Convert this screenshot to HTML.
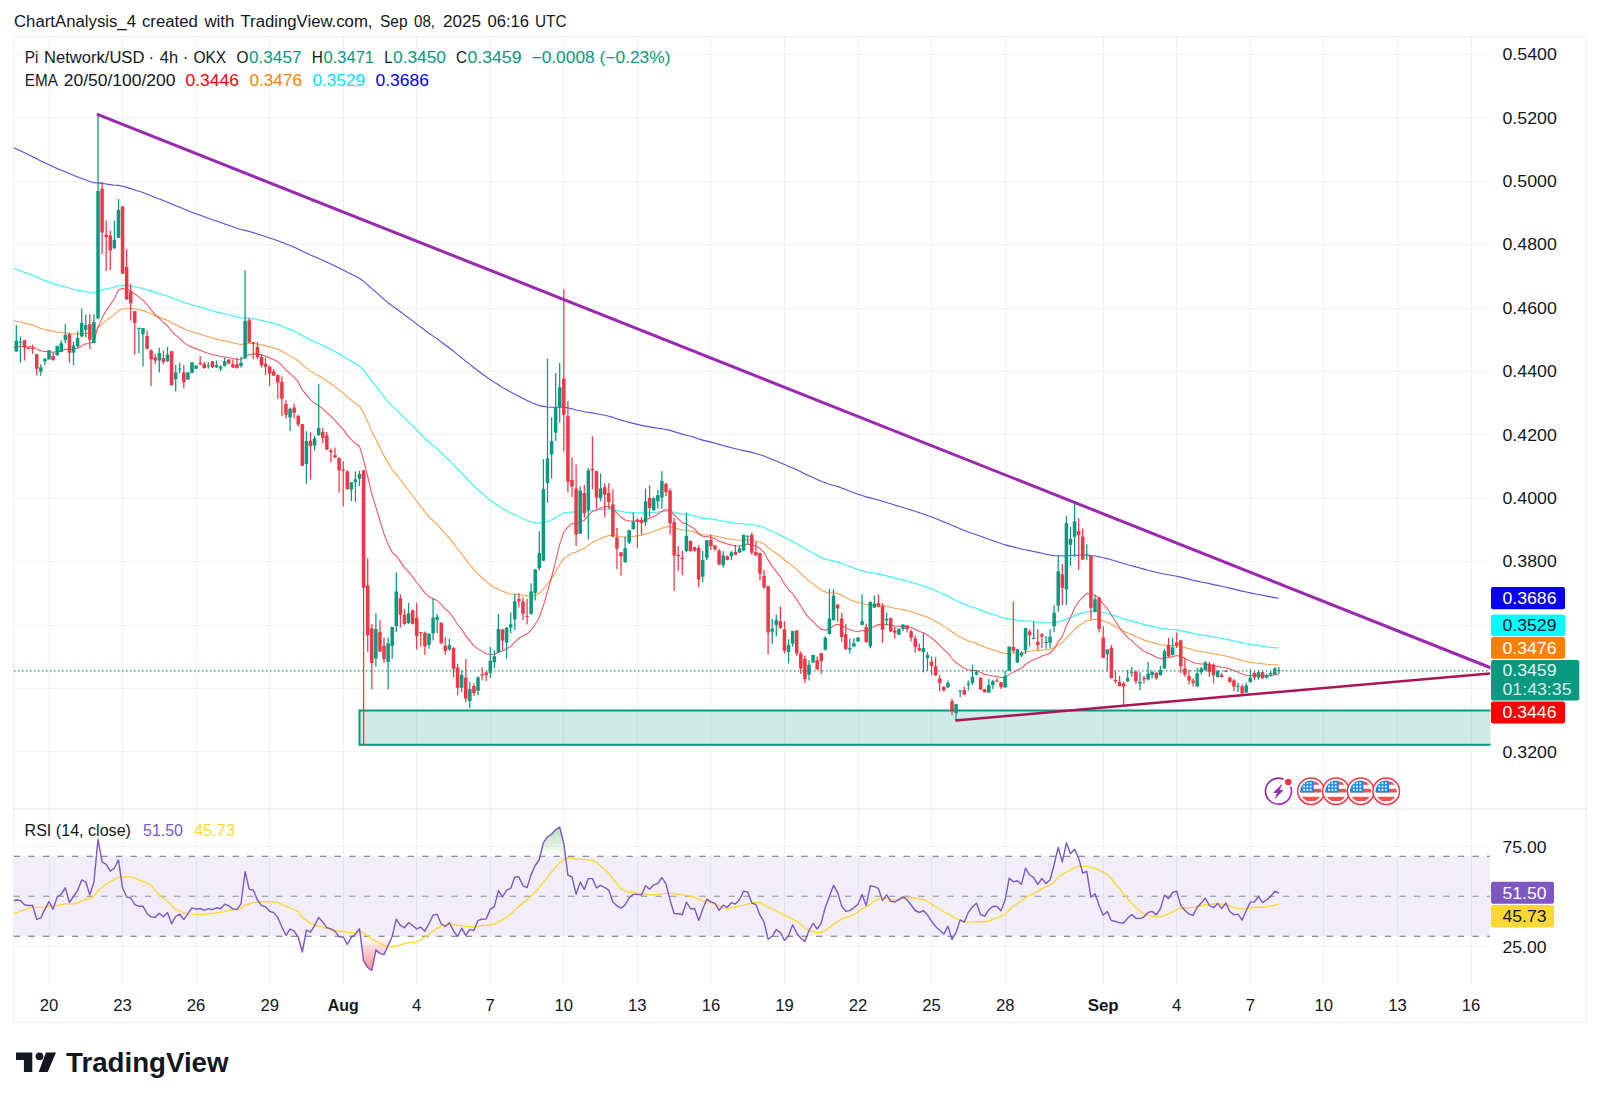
<!DOCTYPE html>
<html lang="en"><head><meta charset="utf-8"><title>ChartAnalysis_4 - TradingView</title>
<style>
html,body{margin:0;padding:0;background:#fff;}
body{width:1600px;height:1103px;overflow:hidden;font-family:"Liberation Sans", Arial, sans-serif;}
svg{display:block;}
text{font-family:"Liberation Sans", Arial, sans-serif;}
.ax{font-size:16px;}
.lg{font-size:15.6px;}
.b{font-weight:bold;}
</style></head><body>
<svg width="1600" height="1103" viewBox="0 0 1600 1103" fill="#131722">
<defs>
<clipPath id="cm"><rect x="13.5" y="36" width="1477" height="773"/></clipPath>
<clipPath id="cr"><rect x="13.5" y="809" width="1477" height="176"/></clipPath>
<clipPath id="c70"><rect x="13" y="809" width="1478" height="47.25"/></clipPath>
<clipPath id="c30"><rect x="13" y="936.25" width="1478" height="60"/></clipPath>
<linearGradient id="gup" x1="0" y1="816" x2="0" y2="856.25" gradientUnits="userSpaceOnUse"><stop offset="0" stop-color="#4caf50" stop-opacity="0.6"/><stop offset="1" stop-color="#4caf50" stop-opacity="0"/></linearGradient>
<linearGradient id="gdn" x1="0" y1="936.25" x2="0" y2="976" gradientUnits="userSpaceOnUse"><stop offset="0" stop-color="#ff5252" stop-opacity="0"/><stop offset="1" stop-color="#ff5252" stop-opacity="0.75"/></linearGradient>
<linearGradient id="gbolt" x1="0" y1="0" x2="1" y2="1"><stop offset="0" stop-color="#7b1fa2"/><stop offset="1" stop-color="#c026d3"/></linearGradient>
<clipPath id="fl"><circle cx="0" cy="0" r="10.6"/></clipPath>
<g id="flag">
<circle cx="0" cy="0" r="13.3" fill="#fff" stroke="#f23645" stroke-width="1.5"/>
<g clip-path="url(#fl)">
<rect x="-11" y="-11" width="22" height="22" fill="#fff"/>
<rect x="-11" y="-9.6" width="22" height="3.2" fill="#ef5350"/>
<rect x="-11" y="-2.4" width="22" height="3.7" fill="#ef5350"/>
<rect x="-11" y="5.6" width="22" height="4.2" fill="#ef5350"/>
<rect x="-11" y="-11" width="13.8" height="12.3" fill="#1e88e5"/>
<g fill="#e8f4ff">
<rect x="-7.9" y="-8.9" width="1.9" height="1.9"/><rect x="-4.6" y="-8.9" width="1.9" height="1.9"/><rect x="-1.3" y="-8.9" width="1.9" height="1.9"/>
<rect x="-7.9" y="-5.6" width="1.9" height="1.9"/><rect x="-4.6" y="-5.6" width="1.9" height="1.9"/><rect x="-1.3" y="-5.6" width="1.9" height="1.9"/>
<rect x="-7.9" y="-2.3" width="1.9" height="1.9"/><rect x="-4.6" y="-2.3" width="1.9" height="1.9"/><rect x="-1.3" y="-2.3" width="1.9" height="1.9"/>
</g></g></g>
</defs>
<rect width="1600" height="1103" fill="#fff"/>

<text y="27.1" font-size="16"><tspan x="14" textLength="122.0" lengthAdjust="spacingAndGlyphs">ChartAnalysis_4</tspan><tspan x="142" textLength="55.8" lengthAdjust="spacingAndGlyphs">created</tspan><tspan x="204.4" textLength="30.0" lengthAdjust="spacingAndGlyphs">with</tspan><tspan x="240.5" textLength="132.0" lengthAdjust="spacingAndGlyphs">TradingView.com,</tspan><tspan x="380" textLength="27.5" lengthAdjust="spacingAndGlyphs">Sep</tspan><tspan x="414" textLength="21.0" lengthAdjust="spacingAndGlyphs">08,</tspan><tspan x="443" textLength="38.0" lengthAdjust="spacingAndGlyphs">2025</tspan><tspan x="487.5" textLength="41.5" lengthAdjust="spacingAndGlyphs">06:16</tspan><tspan x="535" textLength="31.5" lengthAdjust="spacingAndGlyphs">UTC</tspan></text>
<rect x="13.5" y="36.5" width="1573" height="986" fill="none" stroke="#eff0f3" stroke-width="1"/>
<g stroke="#f1f2f4" stroke-width="1" shape-rendering="crispEdges">
<line x1="49.0" y1="37" x2="49.0" y2="985"/>
<line x1="122.5" y1="37" x2="122.5" y2="985"/>
<line x1="196.1" y1="37" x2="196.1" y2="985"/>
<line x1="269.6" y1="37" x2="269.6" y2="985"/>
<line x1="343.2" y1="37" x2="343.2" y2="985"/>
<line x1="416.8" y1="37" x2="416.8" y2="985"/>
<line x1="490.3" y1="37" x2="490.3" y2="985"/>
<line x1="563.9" y1="37" x2="563.9" y2="985"/>
<line x1="637.4" y1="37" x2="637.4" y2="985"/>
<line x1="710.9" y1="37" x2="710.9" y2="985"/>
<line x1="784.5" y1="37" x2="784.5" y2="985"/>
<line x1="858.0" y1="37" x2="858.0" y2="985"/>
<line x1="931.6" y1="37" x2="931.6" y2="985"/>
<line x1="1005.1" y1="37" x2="1005.1" y2="985"/>
<line x1="1103.2" y1="37" x2="1103.2" y2="985"/>
<line x1="1176.8" y1="37" x2="1176.8" y2="985"/>
<line x1="1250.3" y1="37" x2="1250.3" y2="985"/>
<line x1="1323.9" y1="37" x2="1323.9" y2="985"/>
<line x1="1397.4" y1="37" x2="1397.4" y2="985"/>
<line x1="1471.0" y1="37" x2="1471.0" y2="985"/>
<line x1="14" y1="54.4" x2="1490" y2="54.4"/>
<line x1="14" y1="117.8" x2="1490" y2="117.8"/>
<line x1="14" y1="181.2" x2="1490" y2="181.2"/>
<line x1="14" y1="244.6" x2="1490" y2="244.6"/>
<line x1="14" y1="308.0" x2="1490" y2="308.0"/>
<line x1="14" y1="371.4" x2="1490" y2="371.4"/>
<line x1="14" y1="434.8" x2="1490" y2="434.8"/>
<line x1="14" y1="498.2" x2="1490" y2="498.2"/>
<line x1="14" y1="561.6" x2="1490" y2="561.6"/>
<line x1="14" y1="625.0" x2="1490" y2="625.0"/>
<line x1="14" y1="688.4" x2="1490" y2="688.4"/>
<line x1="14" y1="751.8" x2="1490" y2="751.8"/>
<line x1="14" y1="846.5" x2="1490" y2="846.5"/>
<line x1="14" y1="946.0" x2="1490" y2="946.0"/>
</g>
<line x1="14" y1="809" x2="1586" y2="809" stroke="#e0e3eb" stroke-width="1"/>
<g clip-path="url(#cm)">
<rect x="359.5" y="710.5" width="1140" height="34.3" fill="#089981" fill-opacity="0.2" stroke="#089981" stroke-width="2"/>
<line x1="14" y1="670.9" x2="1490" y2="670.9" stroke="#089981" stroke-width="1.4" stroke-dasharray="1.5 2.5"/>
<polyline points="13.5,147.6 16.3,148.9 20.4,150.8 24.5,152.8 28.6,154.8 32.6,156.7 36.7,158.8 40.8,160.9 44.9,162.8 49.0,164.7 53.1,166.7 57.2,168.4 61.2,170.2 65.3,171.8 69.4,173.6 73.5,175.3 77.6,176.9 81.7,178.4 85.8,179.9 89.8,181.4 93.9,182.8 98.0,182.9 102.1,183.4 106.2,184.0 110.3,184.6 114.4,185.2 118.5,185.4 122.5,186.3 126.6,187.4 130.7,188.6 134.8,189.9 138.9,191.3 143.0,192.6 147.1,194.2 151.1,195.8 155.2,197.5 159.3,199.0 163.4,200.6 167.5,202.2 171.6,204.0 175.7,205.7 179.7,207.3 183.8,209.0 187.9,210.7 192.0,212.2 196.1,213.7 200.2,215.2 204.3,216.7 208.3,218.2 212.4,219.7 216.5,221.1 220.6,222.6 224.7,224.0 228.8,225.3 232.9,226.8 236.9,228.2 241.0,229.5 245.1,230.4 249.2,231.5 253.3,232.6 257.4,233.9 261.5,235.2 265.5,236.5 269.6,237.9 273.7,239.2 277.8,240.7 281.9,242.2 286.0,243.9 290.1,245.6 294.1,247.2 298.2,249.0 302.3,251.2 306.4,253.1 310.5,255.0 314.6,256.8 318.7,258.5 322.8,260.3 326.8,262.2 330.9,264.1 335.0,266.0 339.1,268.0 343.2,270.0 347.3,272.2 351.4,274.3 355.4,276.3 359.5,278.3 363.6,281.4 367.7,284.9 371.8,288.7 375.9,292.1 380.0,295.6 384.0,299.3 388.1,302.7 392.2,305.9 396.3,308.8 400.4,311.8 404.5,314.9 408.6,317.9 412.6,320.9 416.7,324.1 420.8,327.1 424.9,330.3 429.0,333.3 433.1,336.1 437.2,338.9 441.2,342.0 445.3,345.0 449.4,348.0 453.5,351.2 457.6,354.6 461.7,357.8 465.8,361.2 469.8,364.4 473.9,367.7 478.0,370.8 482.1,373.8 486.2,376.8 490.3,379.6 494.4,382.4 498.4,384.8 502.5,387.4 506.6,389.8 510.7,392.1 514.8,394.2 518.9,396.2 523.0,398.4 527.1,400.6 531.1,402.5 535.2,404.1 539.3,405.6 543.4,406.4 547.5,407.0 551.6,407.3 555.7,407.3 559.7,407.1 563.8,407.2 567.9,407.9 572.0,408.7 576.1,410.0 580.2,410.8 584.3,411.8 588.3,412.4 592.4,412.9 596.5,413.8 600.6,414.5 604.7,415.3 608.8,416.2 612.9,417.4 616.9,418.7 621.0,420.1 625.1,421.3 629.2,422.4 633.3,423.4 637.4,424.4 641.5,425.4 645.5,426.1 649.6,426.9 653.7,427.6 657.8,428.3 661.9,428.8 666.0,429.5 670.1,430.4 674.1,431.6 678.2,432.9 682.3,434.1 686.4,435.2 690.5,436.3 694.6,437.4 698.7,438.9 702.7,440.1 706.8,441.1 710.9,442.1 715.0,443.2 719.1,444.4 723.2,445.5 727.3,446.6 731.4,447.7 735.4,448.7 739.5,449.7 743.6,450.6 747.7,451.4 751.8,452.4 755.9,453.5 760.0,454.7 764.0,456.0 768.1,457.7 772.2,459.4 776.3,461.0 780.4,462.7 784.5,464.6 788.6,466.4 792.6,468.0 796.7,469.8 800.8,471.8 804.9,473.9 809.0,475.8 813.1,477.6 817.2,479.5 821.2,481.3 825.3,482.8 829.4,484.2 833.5,485.3 837.6,486.5 841.7,488.0 845.8,489.6 849.8,491.2 853.9,492.7 858.0,494.2 862.1,495.4 866.2,496.9 870.3,497.9 874.4,499.0 878.4,500.0 882.5,501.3 886.6,502.5 890.7,503.8 894.8,505.1 898.9,506.3 903.0,507.5 907.0,508.7 911.1,510.0 915.2,511.3 919.3,512.7 923.4,514.1 927.5,515.5 931.6,517.0 935.6,518.5 939.7,520.2 943.8,521.9 947.9,523.5 952.0,525.3 956.1,527.1 960.2,528.8 964.3,530.4 968.3,531.9 972.4,533.4 976.5,534.8 980.6,536.3 984.7,537.8 988.8,539.3 992.9,540.7 996.9,542.1 1001.0,543.6 1005.1,544.9 1009.2,545.9 1013.3,546.9 1017.4,548.0 1021.5,549.0 1025.5,549.8 1029.6,550.6 1033.7,551.5 1037.8,552.4 1041.9,553.3 1046.0,554.2 1050.1,555.0 1054.1,555.6 1058.2,555.7 1062.3,556.0 1066.4,555.7 1070.5,555.5 1074.6,555.2 1078.7,555.0 1082.7,555.0 1086.8,555.0 1090.9,555.6 1095.0,556.0 1099.1,556.7 1103.2,557.7 1107.3,558.6 1111.3,559.8 1115.4,561.0 1119.5,562.3 1123.6,563.5 1127.7,564.7 1131.8,565.7 1135.9,566.9 1140.0,568.0 1144.0,569.1 1148.1,570.2 1152.2,571.2 1156.3,572.3 1160.4,573.2 1164.5,574.0 1168.6,574.8 1172.6,575.5 1176.7,576.2 1180.8,577.1 1184.9,578.1 1189.0,579.1 1193.1,580.2 1197.2,581.1 1201.2,582.0 1205.3,582.8 1209.4,583.6 1213.5,584.6 1217.6,585.4 1221.7,586.3 1225.8,587.2 1229.8,588.1 1233.9,589.1 1238.0,590.1 1242.1,591.1 1246.2,592.0 1250.3,592.9 1254.4,593.7 1258.4,594.5 1262.5,595.3 1266.6,596.1 1270.7,596.9 1274.8,597.6 1278.9,598.3" fill="none" stroke="#2b1fdb" stroke-width="1.1" stroke-opacity="0.8" stroke-linejoin="round"/>
<polyline points="13.5,268.4 16.3,269.4 20.4,270.9 24.5,272.4 28.6,273.9 32.6,275.4 36.7,277.2 40.8,279.0 44.9,280.6 49.0,282.0 53.1,283.5 57.2,284.8 61.2,285.9 65.3,286.9 69.4,288.2 73.5,289.3 77.6,290.3 81.7,290.9 85.8,291.6 89.8,292.6 93.9,293.2 98.0,291.1 102.1,290.0 106.2,288.9 110.3,288.2 114.4,287.2 118.5,285.7 122.5,285.4 126.6,285.7 130.7,286.1 134.8,286.8 138.9,287.6 143.0,288.4 147.1,289.6 151.1,291.0 155.2,292.4 159.3,293.6 163.4,294.9 167.5,296.1 171.6,297.9 175.7,299.3 179.7,300.7 183.8,302.3 187.9,303.7 192.0,304.9 196.1,306.1 200.2,307.2 204.3,308.4 208.3,309.6 212.4,310.7 216.5,311.8 220.6,312.9 224.7,313.8 228.8,314.8 232.9,315.9 236.9,316.9 241.0,317.8 245.1,317.9 249.2,318.3 253.3,318.8 257.4,319.6 261.5,320.5 265.5,321.4 269.6,322.4 273.7,323.5 277.8,324.7 281.9,326.1 286.0,327.9 290.1,329.5 294.1,331.1 298.2,333.0 302.3,335.6 306.4,337.7 310.5,339.9 314.6,341.8 318.7,343.5 322.8,345.4 326.8,347.4 330.9,349.5 335.0,351.7 339.1,354.0 343.2,356.3 347.3,358.9 351.4,361.4 355.4,363.7 359.5,365.9 363.6,370.3 367.7,375.5 371.8,381.2 375.9,386.1 380.0,391.4 384.0,396.7 388.1,401.6 392.2,406.1 396.3,409.7 400.4,413.8 404.5,417.9 408.6,421.8 412.6,425.8 416.7,430.0 420.8,434.0 424.9,438.2 429.0,442.1 433.1,445.5 437.2,448.9 441.2,452.8 445.3,456.7 449.4,460.4 453.5,464.6 457.6,469.0 461.7,473.1 465.8,477.5 469.8,481.7 473.9,485.9 478.0,489.7 482.1,493.4 486.2,497.0 490.3,500.2 494.4,503.3 498.4,505.8 502.5,508.5 506.6,510.8 510.7,513.1 514.8,514.8 518.9,516.5 523.0,518.5 527.1,520.4 531.1,521.8 535.2,522.8 539.3,523.4 543.4,522.7 547.5,521.4 551.6,519.8 555.7,517.6 559.7,515.0 563.8,513.0 567.9,512.4 572.0,511.9 576.1,512.3 580.2,511.9 584.3,511.9 588.3,511.1 592.4,510.3 596.5,510.1 600.6,509.6 604.7,509.3 608.8,509.2 612.9,509.7 616.9,510.5 621.0,511.4 625.1,512.1 629.2,512.5 633.3,512.7 637.4,512.8 641.5,513.0 645.5,512.8 649.6,512.7 653.7,512.4 657.8,512.1 661.9,511.5 666.0,511.1 670.1,511.3 674.1,512.2 678.2,513.1 682.3,514.0 686.4,514.4 690.5,515.1 694.6,515.8 698.7,517.1 702.7,518.0 706.8,518.4 710.9,518.9 715.0,519.5 719.1,520.4 723.2,521.1 727.3,521.9 731.4,522.5 735.4,523.1 739.5,523.6 743.6,523.9 747.7,524.1 751.8,524.7 755.9,525.3 760.0,526.2 764.0,527.4 768.1,529.5 772.2,531.5 776.3,533.2 780.4,535.1 784.5,537.4 788.6,539.5 792.6,541.3 796.7,543.6 800.8,546.0 804.9,548.7 809.0,551.0 813.1,553.0 817.2,555.3 821.2,557.4 825.3,559.0 829.4,560.2 833.5,560.9 837.6,561.8 841.7,563.3 845.8,565.0 849.8,566.7 853.9,568.2 858.0,569.6 862.1,570.6 866.2,572.0 870.3,572.6 874.4,573.2 878.4,573.9 882.5,575.0 886.6,575.9 890.7,577.0 894.8,578.1 898.9,579.1 903.0,580.0 907.0,580.9 911.1,582.1 915.2,583.4 919.3,584.7 923.4,585.9 927.5,587.3 931.6,588.9 935.6,590.6 939.7,592.4 943.8,594.3 947.9,596.1 952.0,598.4 956.1,600.5 960.2,602.3 964.3,604.1 968.3,605.7 972.4,607.1 976.5,608.4 980.6,610.0 984.7,611.6 988.8,613.1 992.9,614.4 996.9,615.7 1001.0,617.1 1005.1,618.3 1009.2,618.9 1013.3,619.5 1017.4,620.1 1021.5,620.7 1025.5,620.9 1029.6,621.2 1033.7,621.5 1037.8,622.0 1041.9,622.3 1046.0,622.7 1050.1,622.9 1054.1,622.7 1058.2,621.7 1062.3,621.0 1066.4,619.1 1070.5,617.5 1074.6,615.6 1078.7,614.0 1082.7,612.9 1086.8,611.8 1090.9,611.7 1095.0,611.5 1099.1,611.8 1103.2,612.7 1107.3,613.4 1111.3,614.7 1115.4,616.0 1119.5,617.4 1123.6,618.8 1127.7,620.0 1131.8,621.0 1135.9,622.2 1140.0,623.4 1144.0,624.5 1148.1,625.5 1152.2,626.4 1156.3,627.4 1160.4,628.3 1164.5,628.7 1168.6,629.3 1172.6,629.6 1176.7,629.9 1180.8,630.7 1184.9,631.5 1189.0,632.5 1193.1,633.5 1197.2,634.3 1201.2,635.0 1205.3,635.5 1209.4,636.2 1213.5,637.0 1217.6,637.7 1221.7,638.4 1225.8,639.1 1229.8,640.0 1233.9,640.9 1238.0,641.8 1242.1,642.8 1246.2,643.6 1250.3,644.3 1254.4,645.0 1258.4,645.5 1262.5,646.1 1266.6,646.7 1270.7,647.3 1274.8,647.7 1278.9,648.1" fill="none" stroke="#2ff3f3" stroke-width="1.35" stroke-opacity="0.85" stroke-linejoin="round"/>
<polyline points="13.5,320.7 16.3,321.3 20.4,322.1 24.5,323.1 28.6,324.1 32.6,325.1 36.7,326.8 40.8,328.4 44.9,329.6 49.0,330.4 53.1,331.6 57.2,332.1 61.2,332.6 65.3,332.7 69.4,333.4 73.5,333.9 77.6,334.1 81.7,333.6 85.8,333.3 89.8,333.6 93.9,333.1 98.0,327.5 102.1,323.8 106.2,320.4 110.3,317.7 114.4,314.6 118.5,310.5 122.5,309.1 126.6,308.7 130.7,308.5 134.8,309.0 138.9,309.8 143.0,310.5 147.1,312.0 151.1,313.9 155.2,315.7 159.3,317.1 163.4,318.9 167.5,320.3 171.6,322.8 175.7,324.8 179.7,326.5 183.8,328.7 187.9,330.4 192.0,331.7 196.1,333.0 200.2,334.2 204.3,335.6 208.3,336.7 212.4,337.9 216.5,339.0 220.6,340.1 224.7,340.9 228.8,341.8 232.9,342.8 236.9,343.8 241.0,344.5 245.1,343.6 249.2,343.6 253.3,343.5 257.4,344.1 261.5,344.9 265.5,345.8 269.6,346.8 273.7,348.0 277.8,349.3 281.9,351.3 286.0,353.8 290.1,355.9 294.1,358.1 298.2,360.7 302.3,364.9 306.4,367.9 310.5,370.9 314.6,373.6 318.7,375.7 322.8,378.1 326.8,380.9 330.9,383.7 335.0,386.6 339.1,389.9 343.2,393.1 347.3,396.8 351.4,400.2 355.4,403.3 359.5,406.1 363.6,413.2 367.7,421.9 371.8,431.4 375.9,439.1 380.0,447.4 384.0,455.7 388.1,463.1 392.2,469.5 396.3,474.3 400.4,479.8 404.5,485.5 408.6,490.5 412.6,495.7 416.7,501.2 420.8,506.4 424.9,511.9 429.0,516.6 433.1,520.6 437.2,524.4 441.2,529.1 445.3,533.8 449.4,538.2 453.5,543.3 457.6,549.0 461.7,553.9 465.8,559.6 469.8,564.7 473.9,569.7 478.0,573.9 482.1,577.9 486.2,581.7 490.3,584.8 494.4,587.6 498.4,589.2 502.5,591.2 506.6,592.7 510.7,593.9 514.8,594.2 518.9,594.5 523.0,595.2 527.1,596.1 531.1,595.9 535.2,594.9 539.3,593.2 543.4,589.1 547.5,584.0 551.6,578.4 555.7,571.7 559.7,564.5 563.8,558.6 567.9,555.6 572.0,552.9 576.1,552.2 580.2,549.8 584.3,548.3 588.3,545.3 592.4,542.3 596.5,540.6 600.6,538.5 604.7,536.8 608.8,535.4 612.9,535.5 616.9,536.0 621.0,536.8 625.1,537.2 629.2,537.0 633.3,536.4 637.4,535.8 641.5,535.3 645.5,534.0 649.6,532.9 653.7,531.6 657.8,530.1 661.9,528.2 666.0,526.8 670.1,526.7 674.1,527.8 678.2,528.9 682.3,530.1 686.4,530.3 690.5,531.1 694.6,531.9 698.7,533.8 702.7,534.8 706.8,535.0 710.9,535.4 715.0,536.0 719.1,537.1 723.2,537.8 727.3,538.7 731.4,539.2 735.4,539.8 739.5,540.2 743.6,540.0 747.7,539.8 751.8,540.3 755.9,540.9 760.0,542.2 764.0,543.9 768.1,547.4 772.2,550.6 776.3,553.3 780.4,556.3 784.5,560.0 788.6,563.3 792.6,565.9 796.7,569.4 800.8,573.3 804.9,577.4 809.0,580.8 813.1,583.8 817.2,587.1 821.2,590.0 825.3,591.9 829.4,592.9 833.5,593.0 837.6,593.6 841.7,595.3 845.8,597.4 849.8,599.4 853.9,601.2 858.0,602.6 862.1,603.3 866.2,604.8 870.3,604.7 874.4,604.7 878.4,604.8 882.5,605.8 886.6,606.3 890.7,607.3 894.8,608.3 898.9,609.1 903.0,609.7 907.0,610.4 911.1,611.5 915.2,612.9 919.3,614.4 923.4,615.7 927.5,617.2 931.6,619.1 935.6,621.3 939.7,623.8 943.8,626.4 947.9,628.6 952.0,631.8 956.1,634.7 960.2,636.9 964.3,639.1 968.3,640.9 972.4,642.3 976.5,643.5 980.6,645.3 984.7,647.1 988.8,648.6 992.9,649.9 996.9,651.1 1001.0,652.5 1005.1,653.5 1009.2,653.2 1013.3,653.1 1017.4,652.9 1021.5,652.9 1025.5,652.0 1029.6,651.3 1033.7,650.8 1037.8,650.6 1041.9,650.0 1046.0,649.7 1050.1,649.2 1054.1,647.8 1058.2,644.8 1062.3,642.5 1066.4,637.8 1070.5,634.0 1074.6,629.5 1078.7,625.8 1082.7,623.2 1086.8,620.6 1090.9,620.1 1095.0,619.2 1099.1,619.6 1103.2,621.1 1107.3,622.2 1111.3,624.4 1115.4,626.7 1119.5,629.0 1123.6,631.2 1127.7,633.1 1131.8,634.6 1135.9,636.5 1140.0,638.2 1144.0,639.9 1148.1,641.2 1152.2,642.4 1156.3,643.8 1160.4,644.8 1164.5,645.1 1168.6,645.5 1172.6,645.6 1176.7,645.6 1180.8,646.4 1184.9,647.5 1189.0,648.8 1193.1,650.1 1197.2,651.0 1201.2,651.7 1205.3,652.1 1209.4,652.9 1213.5,653.8 1217.6,654.5 1221.7,655.3 1225.8,656.0 1229.8,657.0 1233.9,658.2 1238.0,659.2 1242.1,660.6 1246.2,661.6 1250.3,662.2 1254.4,662.8 1258.4,663.2 1262.5,663.7 1266.6,664.2 1270.7,664.6 1274.8,664.7 1278.9,664.9" fill="none" stroke="#ff8a1f" stroke-width="1.05" stroke-opacity="0.85" stroke-linejoin="round"/>
<polyline points="13.5,347.2 16.3,346.9 20.4,346.4 24.5,346.5 28.6,346.7 32.6,346.9 36.7,349.0 40.8,350.8 44.9,351.5 49.0,351.4 53.1,352.2 57.2,351.7 61.2,350.9 65.3,349.3 69.4,349.7 73.5,349.3 77.6,348.2 81.7,345.8 85.8,343.8 89.8,343.4 93.9,341.4 98.0,327.1 102.1,318.1 106.2,310.3 110.3,304.6 114.4,298.5 118.5,290.0 122.5,288.5 126.6,289.5 130.7,290.8 134.8,293.9 138.9,297.1 143.0,300.1 147.1,304.7 151.1,309.9 155.2,314.7 159.3,318.4 163.4,322.5 167.5,325.6 171.6,331.3 175.7,335.2 179.7,338.4 183.8,342.6 187.9,345.4 192.0,347.0 196.1,348.8 200.2,350.3 204.3,352.0 208.3,353.2 212.4,354.6 216.5,355.6 220.6,356.6 224.7,357.1 228.8,357.7 232.9,358.6 236.9,359.5 241.0,359.8 245.1,356.1 249.2,354.8 253.3,353.7 257.4,354.0 261.5,355.1 265.5,356.2 269.6,357.9 273.7,359.5 277.8,361.7 281.9,365.3 286.0,370.0 290.1,373.7 294.1,377.4 298.2,381.9 302.3,389.9 306.4,394.7 310.5,399.6 314.6,403.3 318.7,405.7 322.8,408.8 326.8,412.6 330.9,416.4 335.0,420.3 339.1,425.1 343.2,429.4 347.3,435.1 351.4,439.6 355.4,443.4 359.5,446.3 363.6,459.8 367.7,476.5 371.8,494.2 375.9,507.1 380.0,520.8 384.0,534.0 388.1,544.4 392.2,552.3 396.3,556.0 400.4,561.6 404.5,567.6 408.6,571.9 412.6,576.9 416.7,582.5 420.8,587.3 424.9,592.9 429.0,596.8 433.1,598.8 437.2,600.5 441.2,604.6 445.3,609.0 449.4,612.4 453.5,617.8 457.6,624.5 461.7,629.3 465.8,635.9 469.8,640.9 473.9,645.9 478.0,648.9 482.1,651.4 486.2,653.7 490.3,654.3 494.4,654.5 498.4,652.1 502.5,651.0 506.6,648.8 510.7,646.4 514.8,642.1 518.9,638.2 523.0,635.9 527.1,634.1 531.1,630.0 535.2,624.3 539.3,617.5 543.4,605.3 547.5,591.3 551.6,577.0 555.7,560.8 559.7,544.3 563.8,532.0 567.9,527.2 572.0,523.3 576.1,524.4 580.2,521.2 584.3,520.4 588.3,515.7 592.4,511.3 596.5,510.0 600.6,508.0 604.7,506.7 608.8,506.2 612.9,509.1 616.9,512.9 621.0,517.0 625.1,520.0 629.2,521.0 633.3,521.0 637.4,521.1 641.5,521.3 645.5,519.4 649.6,518.3 653.7,516.4 657.8,514.4 661.9,511.2 666.0,509.4 670.1,510.7 674.1,514.9 678.2,518.9 682.3,522.7 686.4,523.9 690.5,526.5 694.6,528.8 698.7,533.7 702.7,536.2 706.8,536.5 710.9,537.5 715.0,538.6 719.1,541.1 723.2,542.4 727.3,544.1 731.4,544.9 735.4,545.8 739.5,546.1 743.6,545.0 747.7,544.1 751.8,544.9 755.9,545.9 760.0,548.6 764.0,552.3 768.1,559.9 772.2,566.4 776.3,571.6 780.4,576.9 784.5,584.0 788.6,589.8 792.6,593.7 796.7,599.4 800.8,606.0 804.9,612.9 809.0,617.9 813.1,621.4 817.2,626.0 821.2,629.3 825.3,630.1 829.4,629.0 833.5,625.8 837.6,624.2 841.7,625.4 845.8,627.6 849.8,629.6 853.9,630.9 858.0,631.6 862.1,630.6 866.2,631.7 870.3,628.8 874.4,626.4 878.4,624.6 882.5,625.1 886.6,624.5 890.7,625.2 894.8,625.9 898.9,626.2 903.0,626.0 907.0,626.3 911.1,627.4 915.2,629.2 919.3,631.3 923.4,632.9 927.5,635.0 931.6,637.9 935.6,641.5 939.7,645.4 943.8,649.7 947.9,652.9 952.0,658.5 956.1,662.8 960.2,665.4 964.3,668.2 968.3,669.7 972.4,670.4 976.5,670.5 980.6,672.4 984.7,674.2 988.8,675.3 992.9,675.9 996.9,676.4 1001.0,677.4 1005.1,677.3 1009.2,674.4 1013.3,672.1 1017.4,669.9 1021.5,668.3 1025.5,664.5 1029.6,661.7 1033.7,659.4 1037.8,658.1 1041.9,656.0 1046.0,654.7 1050.1,653.0 1054.1,649.1 1058.2,641.7 1062.3,636.6 1066.4,625.8 1070.5,617.5 1074.6,608.3 1078.7,601.4 1082.7,597.4 1086.8,593.3 1090.9,594.7 1095.0,595.1 1099.1,598.4 1103.2,604.0 1107.3,608.4 1111.3,615.0 1115.4,621.3 1119.5,627.5 1123.6,633.1 1127.7,637.4 1131.8,640.7 1135.9,644.6 1140.0,648.2 1144.0,651.1 1148.1,653.2 1152.2,655.0 1156.3,657.2 1160.4,658.5 1164.5,657.8 1168.6,657.7 1172.6,656.7 1176.7,655.6 1180.8,656.6 1184.9,658.3 1189.0,660.4 1193.1,662.6 1197.2,663.6 1201.2,664.1 1205.3,663.9 1209.4,664.7 1213.5,665.7 1217.6,666.2 1221.7,667.2 1225.8,667.6 1229.8,669.0 1233.9,670.7 1238.0,672.1 1242.1,674.1 1246.2,675.2 1250.3,675.4 1254.4,675.6 1258.4,675.3 1262.5,675.6 1266.6,675.6 1270.7,675.4 1274.8,674.7 1278.9,674.3" fill="none" stroke="#f5333f" stroke-width="1.05" stroke-opacity="0.85" stroke-linejoin="round"/>
<line x1="16.3" y1="325.1" x2="16.3" y2="351.5" stroke="#089981" stroke-width="1.25"/>
<rect x="14.55" y="340.9" width="3.5" height="10.6" fill="#089981"/>
<line x1="20.4" y1="336.4" x2="20.4" y2="362.8" stroke="#089981" stroke-width="1.25"/>
<rect x="18.64" y="341.7" width="3.5" height="1.0" fill="#089981"/>
<line x1="24.5" y1="340.2" x2="24.5" y2="360.5" stroke="#f23645" stroke-width="1.25"/>
<rect x="22.72" y="340.2" width="3.5" height="7.5" fill="#f23645"/>
<line x1="28.6" y1="347.0" x2="28.6" y2="349.2" stroke="#f23645" stroke-width="1.25"/>
<rect x="26.81" y="347.7" width="3.5" height="1.2" fill="#f23645"/>
<line x1="32.6" y1="344.7" x2="32.6" y2="353.7" stroke="#f23645" stroke-width="1.25"/>
<rect x="30.89" y="347.7" width="3.5" height="1.2" fill="#f23645"/>
<line x1="36.7" y1="354.2" x2="36.7" y2="375.5" stroke="#f23645" stroke-width="1.25"/>
<rect x="34.98" y="354.2" width="3.5" height="14.6" fill="#f23645"/>
<line x1="40.8" y1="364.3" x2="40.8" y2="375.8" stroke="#089981" stroke-width="1.25"/>
<rect x="39.07" y="367.3" width="3.5" height="4.2" fill="#089981"/>
<line x1="44.9" y1="358.2" x2="44.9" y2="365.0" stroke="#089981" stroke-width="1.25"/>
<rect x="43.15" y="358.7" width="3.5" height="2.6" fill="#089981"/>
<line x1="49.0" y1="350.3" x2="49.0" y2="359.4" stroke="#089981" stroke-width="1.25"/>
<rect x="47.24" y="350.3" width="3.5" height="9.1" fill="#089981"/>
<line x1="53.1" y1="352.2" x2="53.1" y2="360.5" stroke="#f23645" stroke-width="1.25"/>
<rect x="51.32" y="356.0" width="3.5" height="4.2" fill="#f23645"/>
<line x1="57.2" y1="345.5" x2="57.2" y2="355.7" stroke="#089981" stroke-width="1.25"/>
<rect x="55.41" y="346.2" width="3.5" height="9.0" fill="#089981"/>
<line x1="61.2" y1="340.2" x2="61.2" y2="352.2" stroke="#089981" stroke-width="1.25"/>
<rect x="59.50" y="343.2" width="3.5" height="8.7" fill="#089981"/>
<line x1="65.3" y1="324.1" x2="65.3" y2="343.2" stroke="#089981" stroke-width="1.25"/>
<rect x="63.58" y="334.9" width="3.5" height="5.3" fill="#089981"/>
<line x1="69.4" y1="332.7" x2="69.4" y2="362.8" stroke="#f23645" stroke-width="1.25"/>
<rect x="67.67" y="334.2" width="3.5" height="18.5" fill="#f23645"/>
<line x1="73.5" y1="341.7" x2="73.5" y2="365.3" stroke="#089981" stroke-width="1.25"/>
<rect x="71.75" y="345.5" width="3.5" height="7.2" fill="#089981"/>
<line x1="77.6" y1="331.2" x2="77.6" y2="347.7" stroke="#089981" stroke-width="1.25"/>
<rect x="75.84" y="337.9" width="3.5" height="8.3" fill="#089981"/>
<line x1="81.7" y1="308.6" x2="81.7" y2="337.2" stroke="#089981" stroke-width="1.25"/>
<rect x="79.93" y="322.9" width="3.5" height="13.5" fill="#089981"/>
<line x1="85.8" y1="314.6" x2="85.8" y2="337.2" stroke="#089981" stroke-width="1.25"/>
<rect x="84.01" y="325.1" width="3.5" height="4.6" fill="#089981"/>
<line x1="89.8" y1="314.3" x2="89.8" y2="348.9" stroke="#f23645" stroke-width="1.25"/>
<rect x="88.10" y="324.1" width="3.5" height="15.8" fill="#f23645"/>
<line x1="93.9" y1="314.3" x2="93.9" y2="343.2" stroke="#089981" stroke-width="1.25"/>
<rect x="92.18" y="322.1" width="3.5" height="20.8" fill="#089981"/>
<line x1="98.0" y1="114.3" x2="98.0" y2="318.5" stroke="#089981" stroke-width="1.25"/>
<rect x="96.27" y="191.0" width="3.5" height="127.5" fill="#089981"/>
<line x1="102.1" y1="182.0" x2="102.1" y2="254.2" stroke="#f23645" stroke-width="1.25"/>
<rect x="100.36" y="188.8" width="3.5" height="43.6" fill="#f23645"/>
<line x1="106.2" y1="220.4" x2="106.2" y2="271.0" stroke="#f23645" stroke-width="1.25"/>
<rect x="104.44" y="234.7" width="3.5" height="2.2" fill="#f23645"/>
<line x1="110.3" y1="230.6" x2="110.3" y2="270.0" stroke="#f23645" stroke-width="1.25"/>
<rect x="108.53" y="235.4" width="3.5" height="15.1" fill="#f23645"/>
<line x1="114.4" y1="220.4" x2="114.4" y2="249.0" stroke="#089981" stroke-width="1.25"/>
<rect x="112.61" y="239.9" width="3.5" height="8.3" fill="#089981"/>
<line x1="118.5" y1="199.0" x2="118.5" y2="238.0" stroke="#089981" stroke-width="1.25"/>
<rect x="116.70" y="209.8" width="3.5" height="27.9" fill="#089981"/>
<line x1="122.5" y1="206.0" x2="122.5" y2="274.0" stroke="#f23645" stroke-width="1.25"/>
<rect x="120.79" y="206.5" width="3.5" height="67.1" fill="#f23645"/>
<line x1="126.6" y1="249.0" x2="126.6" y2="300.0" stroke="#f23645" stroke-width="1.25"/>
<rect x="124.87" y="266.9" width="3.5" height="32.6" fill="#f23645"/>
<line x1="130.7" y1="284.0" x2="130.7" y2="320.2" stroke="#f23645" stroke-width="1.25"/>
<rect x="128.96" y="291.6" width="3.5" height="11.7" fill="#f23645"/>
<line x1="134.8" y1="311.1" x2="134.8" y2="354.5" stroke="#f23645" stroke-width="1.25"/>
<rect x="133.04" y="311.1" width="3.5" height="11.8" fill="#f23645"/>
<line x1="138.9" y1="327.8" x2="138.9" y2="353.3" stroke="#089981" stroke-width="1.25"/>
<rect x="137.13" y="327.8" width="3.5" height="1.1" fill="#089981"/>
<line x1="143.0" y1="328.1" x2="143.0" y2="366.5" stroke="#089981" stroke-width="1.25"/>
<rect x="141.22" y="328.1" width="3.5" height="6.1" fill="#089981"/>
<line x1="147.1" y1="330.4" x2="147.1" y2="349.2" stroke="#f23645" stroke-width="1.25"/>
<rect x="145.30" y="336.0" width="3.5" height="12.9" fill="#f23645"/>
<line x1="151.1" y1="349.2" x2="151.1" y2="386.0" stroke="#f23645" stroke-width="1.25"/>
<rect x="149.39" y="350.4" width="3.5" height="9.0" fill="#f23645"/>
<line x1="155.2" y1="353.7" x2="155.2" y2="364.3" stroke="#f23645" stroke-width="1.25"/>
<rect x="153.47" y="357.5" width="3.5" height="3.0" fill="#f23645"/>
<line x1="159.3" y1="347.7" x2="159.3" y2="372.5" stroke="#089981" stroke-width="1.25"/>
<rect x="157.56" y="353.0" width="3.5" height="7.5" fill="#089981"/>
<line x1="163.4" y1="350.7" x2="163.4" y2="364.3" stroke="#f23645" stroke-width="1.25"/>
<rect x="161.65" y="358.0" width="3.5" height="4.0" fill="#f23645"/>
<line x1="167.5" y1="347.0" x2="167.5" y2="362.0" stroke="#089981" stroke-width="1.25"/>
<rect x="165.73" y="354.5" width="3.5" height="6.8" fill="#089981"/>
<line x1="171.6" y1="351.2" x2="171.6" y2="385.3" stroke="#f23645" stroke-width="1.25"/>
<rect x="169.82" y="351.2" width="3.5" height="34.1" fill="#f23645"/>
<line x1="175.7" y1="365.0" x2="175.7" y2="391.6" stroke="#089981" stroke-width="1.25"/>
<rect x="173.90" y="372.5" width="3.5" height="6.8" fill="#089981"/>
<line x1="179.7" y1="362.8" x2="179.7" y2="373.3" stroke="#089981" stroke-width="1.25"/>
<rect x="177.99" y="368.5" width="3.5" height="1.0" fill="#089981"/>
<line x1="183.8" y1="365.0" x2="183.8" y2="388.6" stroke="#f23645" stroke-width="1.25"/>
<rect x="182.08" y="372.5" width="3.5" height="9.8" fill="#f23645"/>
<line x1="187.9" y1="372.0" x2="187.9" y2="380.0" stroke="#089981" stroke-width="1.25"/>
<rect x="186.16" y="372.5" width="3.5" height="6.8" fill="#089981"/>
<line x1="192.0" y1="362.0" x2="192.0" y2="373.3" stroke="#089981" stroke-width="1.25"/>
<rect x="190.25" y="362.5" width="3.5" height="10.5" fill="#089981"/>
<line x1="196.1" y1="365.5" x2="196.1" y2="368.8" stroke="#089981" stroke-width="1.25"/>
<rect x="194.33" y="365.5" width="3.5" height="3.3" fill="#089981"/>
<line x1="200.2" y1="356.0" x2="200.2" y2="365.0" stroke="#f23645" stroke-width="1.25"/>
<rect x="198.42" y="362.8" width="3.5" height="1.5" fill="#f23645"/>
<line x1="204.3" y1="362.0" x2="204.3" y2="368.8" stroke="#f23645" stroke-width="1.25"/>
<rect x="202.51" y="364.0" width="3.5" height="4.0" fill="#f23645"/>
<line x1="208.3" y1="362.0" x2="208.3" y2="368.8" stroke="#089981" stroke-width="1.25"/>
<rect x="206.59" y="365.5" width="3.5" height="1.0" fill="#089981"/>
<line x1="212.4" y1="361.0" x2="212.4" y2="368.0" stroke="#f23645" stroke-width="1.25"/>
<rect x="210.68" y="361.3" width="3.5" height="6.0" fill="#f23645"/>
<line x1="216.5" y1="360.5" x2="216.5" y2="368.0" stroke="#089981" stroke-width="1.25"/>
<rect x="214.76" y="365.0" width="3.5" height="2.3" fill="#089981"/>
<line x1="220.6" y1="365.8" x2="220.6" y2="371.0" stroke="#089981" stroke-width="1.25"/>
<rect x="218.85" y="366.5" width="3.5" height="2.3" fill="#089981"/>
<line x1="224.7" y1="357.5" x2="224.7" y2="366.5" stroke="#089981" stroke-width="1.25"/>
<rect x="222.94" y="361.3" width="3.5" height="4.5" fill="#089981"/>
<line x1="228.8" y1="359.0" x2="228.8" y2="364.3" stroke="#f23645" stroke-width="1.25"/>
<rect x="227.02" y="359.7" width="3.5" height="3.8" fill="#f23645"/>
<line x1="232.9" y1="359.7" x2="232.9" y2="368.0" stroke="#f23645" stroke-width="1.25"/>
<rect x="231.11" y="364.3" width="3.5" height="3.0" fill="#f23645"/>
<line x1="236.9" y1="357.5" x2="236.9" y2="368.8" stroke="#f23645" stroke-width="1.25"/>
<rect x="235.19" y="364.3" width="3.5" height="3.7" fill="#f23645"/>
<line x1="241.0" y1="356.7" x2="241.0" y2="367.6" stroke="#089981" stroke-width="1.25"/>
<rect x="239.28" y="362.8" width="3.5" height="3.0" fill="#089981"/>
<line x1="245.1" y1="270.2" x2="245.1" y2="358.6" stroke="#089981" stroke-width="1.25"/>
<rect x="243.37" y="320.9" width="3.5" height="37.7" fill="#089981"/>
<line x1="249.2" y1="317.9" x2="249.2" y2="342.8" stroke="#f23645" stroke-width="1.25"/>
<rect x="247.45" y="320.2" width="3.5" height="22.3" fill="#f23645"/>
<line x1="253.3" y1="342.0" x2="253.3" y2="359.3" stroke="#f23645" stroke-width="1.25"/>
<rect x="251.54" y="342.0" width="3.5" height="1.2" fill="#f23645"/>
<line x1="257.4" y1="342.0" x2="257.4" y2="359.3" stroke="#f23645" stroke-width="1.25"/>
<rect x="255.62" y="347.0" width="3.5" height="10.0" fill="#f23645"/>
<line x1="261.5" y1="354.0" x2="261.5" y2="367.6" stroke="#f23645" stroke-width="1.25"/>
<rect x="259.71" y="357.0" width="3.5" height="8.3" fill="#f23645"/>
<line x1="265.5" y1="357.8" x2="265.5" y2="375.1" stroke="#f23645" stroke-width="1.25"/>
<rect x="263.80" y="363.8" width="3.5" height="3.0" fill="#f23645"/>
<line x1="269.6" y1="366.0" x2="269.6" y2="386.1" stroke="#f23645" stroke-width="1.25"/>
<rect x="267.88" y="366.5" width="3.5" height="7.1" fill="#f23645"/>
<line x1="273.7" y1="369.1" x2="273.7" y2="375.9" stroke="#f23645" stroke-width="1.25"/>
<rect x="271.97" y="371.3" width="3.5" height="4.3" fill="#f23645"/>
<line x1="277.8" y1="374.4" x2="277.8" y2="399.2" stroke="#f23645" stroke-width="1.25"/>
<rect x="276.05" y="375.1" width="3.5" height="7.5" fill="#f23645"/>
<line x1="281.9" y1="376.6" x2="281.9" y2="416.3" stroke="#f23645" stroke-width="1.25"/>
<rect x="280.14" y="381.9" width="3.5" height="16.7" fill="#f23645"/>
<line x1="286.0" y1="400.2" x2="286.0" y2="418.5" stroke="#f23645" stroke-width="1.25"/>
<rect x="284.23" y="404.0" width="3.5" height="10.8" fill="#f23645"/>
<line x1="290.1" y1="407.8" x2="290.1" y2="431.2" stroke="#089981" stroke-width="1.25"/>
<rect x="288.31" y="408.8" width="3.5" height="8.6" fill="#089981"/>
<line x1="294.1" y1="403.5" x2="294.1" y2="418.2" stroke="#f23645" stroke-width="1.25"/>
<rect x="292.40" y="407.5" width="3.5" height="5.3" fill="#f23645"/>
<line x1="298.2" y1="414.9" x2="298.2" y2="426.6" stroke="#f23645" stroke-width="1.25"/>
<rect x="296.48" y="415.8" width="3.5" height="8.7" fill="#f23645"/>
<line x1="302.3" y1="424.1" x2="302.3" y2="465.8" stroke="#f23645" stroke-width="1.25"/>
<rect x="300.57" y="424.1" width="3.5" height="41.7" fill="#f23645"/>
<line x1="306.4" y1="431.2" x2="306.4" y2="483.8" stroke="#089981" stroke-width="1.25"/>
<rect x="304.66" y="440.9" width="3.5" height="23.1" fill="#089981"/>
<line x1="310.5" y1="432.4" x2="310.5" y2="479.3" stroke="#f23645" stroke-width="1.25"/>
<rect x="308.74" y="440.9" width="3.5" height="5.3" fill="#f23645"/>
<line x1="314.6" y1="435.7" x2="314.6" y2="450.4" stroke="#089981" stroke-width="1.25"/>
<rect x="312.83" y="438.4" width="3.5" height="7.1" fill="#089981"/>
<line x1="318.7" y1="384.2" x2="318.7" y2="435.4" stroke="#089981" stroke-width="1.25"/>
<rect x="316.91" y="428.1" width="3.5" height="7.3" fill="#089981"/>
<line x1="322.8" y1="428.1" x2="322.8" y2="443.2" stroke="#f23645" stroke-width="1.25"/>
<rect x="321.00" y="431.9" width="3.5" height="6.0" fill="#f23645"/>
<line x1="326.8" y1="431.9" x2="326.8" y2="450.0" stroke="#f23645" stroke-width="1.25"/>
<rect x="325.09" y="435.4" width="3.5" height="14.1" fill="#f23645"/>
<line x1="330.9" y1="448.5" x2="330.9" y2="462.5" stroke="#f23645" stroke-width="1.25"/>
<rect x="329.17" y="450.4" width="3.5" height="1.8" fill="#f23645"/>
<line x1="335.0" y1="447.4" x2="335.0" y2="457.8" stroke="#f23645" stroke-width="1.25"/>
<rect x="333.26" y="455.2" width="3.5" height="2.3" fill="#f23645"/>
<line x1="339.1" y1="457.5" x2="339.1" y2="492.8" stroke="#f23645" stroke-width="1.25"/>
<rect x="337.34" y="457.8" width="3.5" height="12.5" fill="#f23645"/>
<line x1="343.2" y1="461.3" x2="343.2" y2="506.4" stroke="#f23645" stroke-width="1.25"/>
<rect x="341.43" y="469.5" width="3.5" height="1.2" fill="#f23645"/>
<line x1="347.3" y1="470.3" x2="347.3" y2="489.4" stroke="#f23645" stroke-width="1.25"/>
<rect x="345.52" y="471.5" width="3.5" height="17.6" fill="#f23645"/>
<line x1="351.4" y1="482.3" x2="351.4" y2="501.1" stroke="#089981" stroke-width="1.25"/>
<rect x="349.60" y="482.3" width="3.5" height="7.2" fill="#089981"/>
<line x1="355.4" y1="471.5" x2="355.4" y2="501.9" stroke="#089981" stroke-width="1.25"/>
<rect x="353.69" y="479.3" width="3.5" height="3.0" fill="#089981"/>
<line x1="359.5" y1="470.7" x2="359.5" y2="486.1" stroke="#089981" stroke-width="1.25"/>
<rect x="357.77" y="474.0" width="3.5" height="4.6" fill="#089981"/>
<line x1="363.6" y1="470.3" x2="363.6" y2="745.0" stroke="#f23645" stroke-width="1.25"/>
<rect x="361.86" y="470.3" width="3.5" height="117.4" fill="#f23645"/>
<line x1="367.7" y1="558.3" x2="367.7" y2="651.7" stroke="#f23645" stroke-width="1.25"/>
<rect x="365.95" y="585.4" width="3.5" height="49.7" fill="#f23645"/>
<line x1="371.8" y1="623.9" x2="371.8" y2="689.3" stroke="#f23645" stroke-width="1.25"/>
<rect x="370.03" y="628.4" width="3.5" height="34.6" fill="#f23645"/>
<line x1="375.9" y1="613.3" x2="375.9" y2="666.7" stroke="#089981" stroke-width="1.25"/>
<rect x="374.12" y="629.1" width="3.5" height="29.4" fill="#089981"/>
<line x1="380.0" y1="620.1" x2="380.0" y2="652.0" stroke="#f23645" stroke-width="1.25"/>
<rect x="378.20" y="632.1" width="3.5" height="19.6" fill="#f23645"/>
<line x1="384.0" y1="637.4" x2="384.0" y2="663.0" stroke="#f23645" stroke-width="1.25"/>
<rect x="382.29" y="645.7" width="3.5" height="13.5" fill="#f23645"/>
<line x1="388.1" y1="637.4" x2="388.1" y2="689.3" stroke="#089981" stroke-width="1.25"/>
<rect x="386.38" y="643.4" width="3.5" height="18.5" fill="#089981"/>
<line x1="392.2" y1="626.9" x2="392.2" y2="658.5" stroke="#089981" stroke-width="1.25"/>
<rect x="390.46" y="626.9" width="3.5" height="18.8" fill="#089981"/>
<line x1="396.3" y1="572.6" x2="396.3" y2="632.1" stroke="#089981" stroke-width="1.25"/>
<rect x="394.55" y="591.5" width="3.5" height="34.6" fill="#089981"/>
<line x1="400.4" y1="594.5" x2="400.4" y2="627.6" stroke="#f23645" stroke-width="1.25"/>
<rect x="398.63" y="598.3" width="3.5" height="16.5" fill="#f23645"/>
<line x1="404.5" y1="608.8" x2="404.5" y2="624.9" stroke="#f23645" stroke-width="1.25"/>
<rect x="402.72" y="614.8" width="3.5" height="9.1" fill="#f23645"/>
<line x1="408.6" y1="602.8" x2="408.6" y2="623.9" stroke="#089981" stroke-width="1.25"/>
<rect x="406.81" y="613.3" width="3.5" height="9.8" fill="#089981"/>
<line x1="412.6" y1="609.5" x2="412.6" y2="624.6" stroke="#f23645" stroke-width="1.25"/>
<rect x="410.89" y="610.3" width="3.5" height="13.6" fill="#f23645"/>
<line x1="416.7" y1="602.8" x2="416.7" y2="649.4" stroke="#f23645" stroke-width="1.25"/>
<rect x="414.98" y="617.8" width="3.5" height="18.1" fill="#f23645"/>
<line x1="420.8" y1="632.1" x2="420.8" y2="646.4" stroke="#f23645" stroke-width="1.25"/>
<rect x="419.06" y="632.1" width="3.5" height="1.0" fill="#f23645"/>
<line x1="424.9" y1="631.4" x2="424.9" y2="655.0" stroke="#f23645" stroke-width="1.25"/>
<rect x="423.15" y="632.9" width="3.5" height="13.5" fill="#f23645"/>
<line x1="429.0" y1="633.6" x2="429.0" y2="648.7" stroke="#089981" stroke-width="1.25"/>
<rect x="427.24" y="633.6" width="3.5" height="11.3" fill="#089981"/>
<line x1="433.1" y1="598.3" x2="433.1" y2="640.4" stroke="#089981" stroke-width="1.25"/>
<rect x="431.32" y="617.8" width="3.5" height="15.5" fill="#089981"/>
<line x1="437.2" y1="614.1" x2="437.2" y2="632.9" stroke="#089981" stroke-width="1.25"/>
<rect x="435.41" y="616.8" width="3.5" height="3.0" fill="#089981"/>
<line x1="441.2" y1="622.3" x2="441.2" y2="643.7" stroke="#f23645" stroke-width="1.25"/>
<rect x="439.49" y="622.8" width="3.5" height="20.6" fill="#f23645"/>
<line x1="445.3" y1="637.4" x2="445.3" y2="654.7" stroke="#f23645" stroke-width="1.25"/>
<rect x="443.58" y="645.7" width="3.5" height="5.2" fill="#f23645"/>
<line x1="449.4" y1="638.9" x2="449.4" y2="650.9" stroke="#089981" stroke-width="1.25"/>
<rect x="447.67" y="644.9" width="3.5" height="4.5" fill="#089981"/>
<line x1="453.5" y1="647.2" x2="453.5" y2="677.3" stroke="#f23645" stroke-width="1.25"/>
<rect x="451.75" y="647.9" width="3.5" height="21.1" fill="#f23645"/>
<line x1="457.6" y1="663.7" x2="457.6" y2="695.3" stroke="#f23645" stroke-width="1.25"/>
<rect x="455.84" y="667.5" width="3.5" height="20.3" fill="#f23645"/>
<line x1="461.7" y1="670.5" x2="461.7" y2="692.3" stroke="#089981" stroke-width="1.25"/>
<rect x="459.92" y="675.0" width="3.5" height="12.8" fill="#089981"/>
<line x1="465.8" y1="658.9" x2="465.8" y2="702.1" stroke="#f23645" stroke-width="1.25"/>
<rect x="464.01" y="677.7" width="3.5" height="20.9" fill="#f23645"/>
<line x1="469.8" y1="681.8" x2="469.8" y2="708.1" stroke="#089981" stroke-width="1.25"/>
<rect x="468.10" y="689.0" width="3.5" height="12.0" fill="#089981"/>
<line x1="473.9" y1="683.3" x2="473.9" y2="696.1" stroke="#f23645" stroke-width="1.25"/>
<rect x="472.18" y="686.0" width="3.5" height="7.1" fill="#f23645"/>
<line x1="478.0" y1="676.5" x2="478.0" y2="695.3" stroke="#089981" stroke-width="1.25"/>
<rect x="476.27" y="677.3" width="3.5" height="13.5" fill="#089981"/>
<line x1="482.1" y1="667.5" x2="482.1" y2="680.3" stroke="#f23645" stroke-width="1.25"/>
<rect x="480.35" y="674.3" width="3.5" height="1.2" fill="#f23645"/>
<line x1="486.2" y1="671.3" x2="486.2" y2="681.0" stroke="#f23645" stroke-width="1.25"/>
<rect x="484.44" y="672.5" width="3.5" height="2.5" fill="#f23645"/>
<line x1="490.3" y1="646.9" x2="490.3" y2="678.0" stroke="#089981" stroke-width="1.25"/>
<rect x="488.53" y="660.7" width="3.5" height="12.1" fill="#089981"/>
<line x1="494.4" y1="650.2" x2="494.4" y2="667.9" stroke="#089981" stroke-width="1.25"/>
<rect x="492.61" y="656.2" width="3.5" height="6.0" fill="#089981"/>
<line x1="498.4" y1="614.1" x2="498.4" y2="652.7" stroke="#089981" stroke-width="1.25"/>
<rect x="496.70" y="629.1" width="3.5" height="23.3" fill="#089981"/>
<line x1="502.5" y1="629.1" x2="502.5" y2="650.2" stroke="#f23645" stroke-width="1.25"/>
<rect x="500.78" y="629.4" width="3.5" height="11.0" fill="#f23645"/>
<line x1="506.6" y1="627.3" x2="506.6" y2="658.5" stroke="#089981" stroke-width="1.25"/>
<rect x="504.87" y="627.6" width="3.5" height="15.1" fill="#089981"/>
<line x1="510.7" y1="612.6" x2="510.7" y2="633.6" stroke="#089981" stroke-width="1.25"/>
<rect x="508.96" y="624.3" width="3.5" height="3.3" fill="#089981"/>
<line x1="514.8" y1="593.8" x2="514.8" y2="629.9" stroke="#089981" stroke-width="1.25"/>
<rect x="513.04" y="601.3" width="3.5" height="18.0" fill="#089981"/>
<line x1="518.9" y1="593.0" x2="518.9" y2="607.3" stroke="#f23645" stroke-width="1.25"/>
<rect x="517.13" y="599.0" width="3.5" height="2.3" fill="#f23645"/>
<line x1="523.0" y1="597.2" x2="523.0" y2="620.1" stroke="#f23645" stroke-width="1.25"/>
<rect x="521.21" y="601.3" width="3.5" height="12.5" fill="#f23645"/>
<line x1="527.1" y1="599.0" x2="527.1" y2="624.3" stroke="#f23645" stroke-width="1.25"/>
<rect x="525.30" y="615.9" width="3.5" height="1.0" fill="#f23645"/>
<line x1="531.1" y1="583.2" x2="531.1" y2="614.3" stroke="#089981" stroke-width="1.25"/>
<rect x="529.39" y="591.4" width="3.5" height="22.6" fill="#089981"/>
<line x1="535.2" y1="568.9" x2="535.2" y2="600.5" stroke="#089981" stroke-width="1.25"/>
<rect x="533.47" y="569.6" width="3.5" height="23.3" fill="#089981"/>
<line x1="539.3" y1="531.3" x2="539.3" y2="570.4" stroke="#089981" stroke-width="1.25"/>
<rect x="537.56" y="553.1" width="3.5" height="15.0" fill="#089981"/>
<line x1="543.4" y1="459.0" x2="543.4" y2="561.0" stroke="#089981" stroke-width="1.25"/>
<rect x="541.64" y="489.1" width="3.5" height="71.5" fill="#089981"/>
<line x1="547.5" y1="358.7" x2="547.5" y2="502.7" stroke="#089981" stroke-width="1.25"/>
<rect x="545.73" y="458.3" width="3.5" height="24.8" fill="#089981"/>
<line x1="551.6" y1="417.4" x2="551.6" y2="478.6" stroke="#089981" stroke-width="1.25"/>
<rect x="549.82" y="441.1" width="3.5" height="13.4" fill="#089981"/>
<line x1="555.7" y1="373.0" x2="555.7" y2="440.9" stroke="#089981" stroke-width="1.25"/>
<rect x="553.90" y="407.6" width="3.5" height="25.0" fill="#089981"/>
<line x1="559.7" y1="362.9" x2="559.7" y2="422.7" stroke="#089981" stroke-width="1.25"/>
<rect x="557.99" y="387.3" width="3.5" height="19.6" fill="#089981"/>
<line x1="563.8" y1="289.2" x2="563.8" y2="451.6" stroke="#f23645" stroke-width="1.25"/>
<rect x="562.07" y="378.6" width="3.5" height="36.1" fill="#f23645"/>
<line x1="567.9" y1="400.9" x2="567.9" y2="492.5" stroke="#f23645" stroke-width="1.25"/>
<rect x="566.16" y="416.2" width="3.5" height="65.5" fill="#f23645"/>
<line x1="572.0" y1="457.2" x2="572.0" y2="497.0" stroke="#f23645" stroke-width="1.25"/>
<rect x="570.25" y="480.0" width="3.5" height="6.5" fill="#f23645"/>
<line x1="576.1" y1="464.4" x2="576.1" y2="546.0" stroke="#f23645" stroke-width="1.25"/>
<rect x="574.33" y="488.5" width="3.5" height="46.0" fill="#f23645"/>
<line x1="580.2" y1="486.2" x2="580.2" y2="534.0" stroke="#089981" stroke-width="1.25"/>
<rect x="578.42" y="490.7" width="3.5" height="42.9" fill="#089981"/>
<line x1="584.3" y1="484.7" x2="584.3" y2="517.8" stroke="#f23645" stroke-width="1.25"/>
<rect x="582.50" y="493.0" width="3.5" height="20.3" fill="#f23645"/>
<line x1="588.3" y1="468.1" x2="588.3" y2="539.6" stroke="#089981" stroke-width="1.25"/>
<rect x="586.59" y="470.4" width="3.5" height="39.9" fill="#089981"/>
<line x1="592.4" y1="436.3" x2="592.4" y2="489.2" stroke="#f23645" stroke-width="1.25"/>
<rect x="590.68" y="468.9" width="3.5" height="1.5" fill="#f23645"/>
<line x1="596.5" y1="470.9" x2="596.5" y2="508.8" stroke="#f23645" stroke-width="1.25"/>
<rect x="594.76" y="471.2" width="3.5" height="26.3" fill="#f23645"/>
<line x1="600.6" y1="473.4" x2="600.6" y2="501.3" stroke="#089981" stroke-width="1.25"/>
<rect x="598.85" y="488.5" width="3.5" height="9.7" fill="#089981"/>
<line x1="604.7" y1="483.2" x2="604.7" y2="517.1" stroke="#f23645" stroke-width="1.25"/>
<rect x="602.93" y="487.0" width="3.5" height="7.5" fill="#f23645"/>
<line x1="608.8" y1="482.9" x2="608.8" y2="508.8" stroke="#f23645" stroke-width="1.25"/>
<rect x="607.02" y="493.0" width="3.5" height="9.0" fill="#f23645"/>
<line x1="612.9" y1="489.2" x2="612.9" y2="537.0" stroke="#f23645" stroke-width="1.25"/>
<rect x="611.11" y="504.3" width="3.5" height="32.3" fill="#f23645"/>
<line x1="616.9" y1="528.0" x2="616.9" y2="569.0" stroke="#f23645" stroke-width="1.25"/>
<rect x="615.19" y="537.4" width="3.5" height="11.3" fill="#f23645"/>
<line x1="621.0" y1="552.0" x2="621.0" y2="575.7" stroke="#f23645" stroke-width="1.25"/>
<rect x="619.28" y="552.4" width="3.5" height="3.8" fill="#f23645"/>
<line x1="625.1" y1="536.6" x2="625.1" y2="562.5" stroke="#089981" stroke-width="1.25"/>
<rect x="623.36" y="548.2" width="3.5" height="14.0" fill="#089981"/>
<line x1="629.2" y1="529.8" x2="629.2" y2="544.1" stroke="#089981" stroke-width="1.25"/>
<rect x="627.45" y="530.1" width="3.5" height="12.5" fill="#089981"/>
<line x1="633.3" y1="512.5" x2="633.3" y2="529.8" stroke="#089981" stroke-width="1.25"/>
<rect x="631.54" y="521.6" width="3.5" height="7.5" fill="#089981"/>
<line x1="637.4" y1="518.6" x2="637.4" y2="547.9" stroke="#f23645" stroke-width="1.25"/>
<rect x="635.62" y="519.6" width="3.5" height="2.0" fill="#f23645"/>
<line x1="641.5" y1="517.0" x2="641.5" y2="534.7" stroke="#f23645" stroke-width="1.25"/>
<rect x="639.71" y="520.1" width="3.5" height="3.0" fill="#f23645"/>
<line x1="645.5" y1="488.5" x2="645.5" y2="526.1" stroke="#089981" stroke-width="1.25"/>
<rect x="643.79" y="501.3" width="3.5" height="21.0" fill="#089981"/>
<line x1="649.6" y1="485.0" x2="649.6" y2="517.1" stroke="#f23645" stroke-width="1.25"/>
<rect x="647.88" y="497.9" width="3.5" height="10.1" fill="#f23645"/>
<line x1="653.7" y1="497.0" x2="653.7" y2="510.6" stroke="#089981" stroke-width="1.25"/>
<rect x="651.97" y="498.2" width="3.5" height="12.1" fill="#089981"/>
<line x1="657.8" y1="490.0" x2="657.8" y2="508.8" stroke="#089981" stroke-width="1.25"/>
<rect x="656.05" y="495.2" width="3.5" height="6.1" fill="#089981"/>
<line x1="661.9" y1="471.2" x2="661.9" y2="508.8" stroke="#089981" stroke-width="1.25"/>
<rect x="660.14" y="480.9" width="3.5" height="16.6" fill="#089981"/>
<line x1="666.0" y1="482.4" x2="666.0" y2="496.0" stroke="#f23645" stroke-width="1.25"/>
<rect x="664.22" y="483.9" width="3.5" height="8.3" fill="#f23645"/>
<line x1="670.1" y1="488.5" x2="670.1" y2="534.4" stroke="#f23645" stroke-width="1.25"/>
<rect x="668.31" y="490.7" width="3.5" height="32.5" fill="#f23645"/>
<line x1="674.1" y1="518.0" x2="674.1" y2="591.0" stroke="#f23645" stroke-width="1.25"/>
<rect x="672.40" y="522.0" width="3.5" height="33.5" fill="#f23645"/>
<line x1="678.2" y1="546.0" x2="678.2" y2="570.6" stroke="#f23645" stroke-width="1.25"/>
<rect x="676.48" y="554.9" width="3.5" height="1.2" fill="#f23645"/>
<line x1="682.3" y1="551.0" x2="682.3" y2="575.1" stroke="#f23645" stroke-width="1.25"/>
<rect x="680.57" y="557.8" width="3.5" height="1.1" fill="#f23645"/>
<line x1="686.4" y1="512.6" x2="686.4" y2="552.5" stroke="#089981" stroke-width="1.25"/>
<rect x="684.65" y="536.0" width="3.5" height="15.0" fill="#089981"/>
<line x1="690.5" y1="540.3" x2="690.5" y2="551.7" stroke="#f23645" stroke-width="1.25"/>
<rect x="688.74" y="541.0" width="3.5" height="10.0" fill="#f23645"/>
<line x1="694.6" y1="546.5" x2="694.6" y2="551.7" stroke="#f23645" stroke-width="1.25"/>
<rect x="692.83" y="547.3" width="3.5" height="3.3" fill="#f23645"/>
<line x1="698.7" y1="545.0" x2="698.7" y2="587.2" stroke="#f23645" stroke-width="1.25"/>
<rect x="696.91" y="548.0" width="3.5" height="31.6" fill="#f23645"/>
<line x1="702.7" y1="551.0" x2="702.7" y2="582.3" stroke="#089981" stroke-width="1.25"/>
<rect x="701.00" y="559.9" width="3.5" height="16.7" fill="#089981"/>
<line x1="706.8" y1="540.0" x2="706.8" y2="559.9" stroke="#089981" stroke-width="1.25"/>
<rect x="705.08" y="540.3" width="3.5" height="17.5" fill="#089981"/>
<line x1="710.9" y1="534.5" x2="710.9" y2="550.3" stroke="#f23645" stroke-width="1.25"/>
<rect x="709.17" y="539.7" width="3.5" height="6.5" fill="#f23645"/>
<line x1="715.0" y1="545.0" x2="715.0" y2="551.0" stroke="#f23645" stroke-width="1.25"/>
<rect x="713.26" y="545.5" width="3.5" height="3.7" fill="#f23645"/>
<line x1="719.1" y1="549.0" x2="719.1" y2="565.0" stroke="#f23645" stroke-width="1.25"/>
<rect x="717.34" y="550.6" width="3.5" height="13.9" fill="#f23645"/>
<line x1="723.2" y1="551.0" x2="723.2" y2="567.6" stroke="#089981" stroke-width="1.25"/>
<rect x="721.43" y="555.4" width="3.5" height="9.9" fill="#089981"/>
<line x1="727.3" y1="555.5" x2="727.3" y2="560.2" stroke="#f23645" stroke-width="1.25"/>
<rect x="725.51" y="556.3" width="3.5" height="3.5" fill="#f23645"/>
<line x1="731.4" y1="551.0" x2="731.4" y2="560.1" stroke="#089981" stroke-width="1.25"/>
<rect x="729.60" y="552.5" width="3.5" height="3.6" fill="#089981"/>
<line x1="735.4" y1="545.0" x2="735.4" y2="555.2" stroke="#f23645" stroke-width="1.25"/>
<rect x="733.69" y="551.8" width="3.5" height="3.0" fill="#f23645"/>
<line x1="739.5" y1="546.0" x2="739.5" y2="553.0" stroke="#089981" stroke-width="1.25"/>
<rect x="737.77" y="548.4" width="3.5" height="4.1" fill="#089981"/>
<line x1="743.6" y1="534.6" x2="743.6" y2="550.7" stroke="#089981" stroke-width="1.25"/>
<rect x="741.86" y="534.9" width="3.5" height="15.5" fill="#089981"/>
<line x1="747.7" y1="535.5" x2="747.7" y2="544.4" stroke="#089981" stroke-width="1.25"/>
<rect x="745.94" y="535.8" width="3.5" height="1.0" fill="#089981"/>
<line x1="751.8" y1="532.4" x2="751.8" y2="554.9" stroke="#f23645" stroke-width="1.25"/>
<rect x="750.03" y="534.9" width="3.5" height="17.8" fill="#f23645"/>
<line x1="755.9" y1="542.1" x2="755.9" y2="555.7" stroke="#f23645" stroke-width="1.25"/>
<rect x="754.12" y="551.9" width="3.5" height="3.5" fill="#f23645"/>
<line x1="760.0" y1="552.7" x2="760.0" y2="580.5" stroke="#f23645" stroke-width="1.25"/>
<rect x="758.20" y="553.0" width="3.5" height="20.7" fill="#f23645"/>
<line x1="764.0" y1="570.0" x2="764.0" y2="588.8" stroke="#f23645" stroke-width="1.25"/>
<rect x="762.29" y="576.0" width="3.5" height="11.3" fill="#f23645"/>
<line x1="768.1" y1="585.8" x2="768.1" y2="654.2" stroke="#f23645" stroke-width="1.25"/>
<rect x="766.37" y="586.1" width="3.5" height="46.3" fill="#f23645"/>
<line x1="772.2" y1="618.9" x2="772.2" y2="643.7" stroke="#089981" stroke-width="1.25"/>
<rect x="770.46" y="628.6" width="3.5" height="3.1" fill="#089981"/>
<line x1="776.3" y1="614.4" x2="776.3" y2="636.2" stroke="#089981" stroke-width="1.25"/>
<rect x="774.55" y="620.1" width="3.5" height="4.8" fill="#089981"/>
<line x1="780.4" y1="606.5" x2="780.4" y2="628.6" stroke="#f23645" stroke-width="1.25"/>
<rect x="778.63" y="621.1" width="3.5" height="6.8" fill="#f23645"/>
<line x1="784.5" y1="621.1" x2="784.5" y2="653.5" stroke="#f23645" stroke-width="1.25"/>
<rect x="782.72" y="629.4" width="3.5" height="21.5" fill="#f23645"/>
<line x1="788.6" y1="639.2" x2="788.6" y2="663.3" stroke="#089981" stroke-width="1.25"/>
<rect x="786.80" y="644.8" width="3.5" height="7.2" fill="#089981"/>
<line x1="792.6" y1="630.8" x2="792.6" y2="646.7" stroke="#089981" stroke-width="1.25"/>
<rect x="790.89" y="631.0" width="3.5" height="12.7" fill="#089981"/>
<line x1="796.7" y1="630.0" x2="796.7" y2="655.7" stroke="#f23645" stroke-width="1.25"/>
<rect x="794.98" y="630.5" width="3.5" height="23.0" fill="#f23645"/>
<line x1="800.8" y1="651.3" x2="800.8" y2="673.8" stroke="#f23645" stroke-width="1.25"/>
<rect x="799.06" y="653.5" width="3.5" height="15.1" fill="#f23645"/>
<line x1="804.9" y1="655.8" x2="804.9" y2="682.9" stroke="#f23645" stroke-width="1.25"/>
<rect x="803.15" y="658.8" width="3.5" height="20.3" fill="#f23645"/>
<line x1="809.0" y1="660.3" x2="809.0" y2="680.6" stroke="#089981" stroke-width="1.25"/>
<rect x="807.23" y="664.8" width="3.5" height="9.8" fill="#089981"/>
<line x1="813.1" y1="654.7" x2="813.1" y2="662.8" stroke="#089981" stroke-width="1.25"/>
<rect x="811.32" y="655.0" width="3.5" height="7.5" fill="#089981"/>
<line x1="817.2" y1="656.5" x2="817.2" y2="670.1" stroke="#f23645" stroke-width="1.25"/>
<rect x="815.41" y="660.3" width="3.5" height="9.0" fill="#f23645"/>
<line x1="821.2" y1="652.8" x2="821.2" y2="673.8" stroke="#f23645" stroke-width="1.25"/>
<rect x="819.49" y="653.2" width="3.5" height="7.8" fill="#f23645"/>
<line x1="825.3" y1="636.2" x2="825.3" y2="650.5" stroke="#089981" stroke-width="1.25"/>
<rect x="823.58" y="637.7" width="3.5" height="12.0" fill="#089981"/>
<line x1="829.4" y1="589.0" x2="829.4" y2="634.7" stroke="#089981" stroke-width="1.25"/>
<rect x="827.66" y="618.5" width="3.5" height="15.4" fill="#089981"/>
<line x1="833.5" y1="589.0" x2="833.5" y2="620.5" stroke="#089981" stroke-width="1.25"/>
<rect x="831.75" y="595.5" width="3.5" height="24.7" fill="#089981"/>
<line x1="837.6" y1="604.3" x2="837.6" y2="621.5" stroke="#f23645" stroke-width="1.25"/>
<rect x="835.84" y="604.6" width="3.5" height="3.8" fill="#f23645"/>
<line x1="841.7" y1="612.8" x2="841.7" y2="641.8" stroke="#f23645" stroke-width="1.25"/>
<rect x="839.92" y="618.5" width="3.5" height="18.5" fill="#f23645"/>
<line x1="845.8" y1="624.1" x2="845.8" y2="649.7" stroke="#f23645" stroke-width="1.25"/>
<rect x="844.01" y="634.3" width="3.5" height="14.9" fill="#f23645"/>
<line x1="849.8" y1="638.4" x2="849.8" y2="653.5" stroke="#089981" stroke-width="1.25"/>
<rect x="848.09" y="648.2" width="3.5" height="1.5" fill="#089981"/>
<line x1="853.9" y1="638.4" x2="853.9" y2="647.2" stroke="#089981" stroke-width="1.25"/>
<rect x="852.18" y="643.3" width="3.5" height="3.2" fill="#089981"/>
<line x1="858.0" y1="636.9" x2="858.0" y2="642.0" stroke="#089981" stroke-width="1.25"/>
<rect x="856.27" y="637.7" width="3.5" height="3.7" fill="#089981"/>
<line x1="862.1" y1="594.3" x2="862.1" y2="625.2" stroke="#089981" stroke-width="1.25"/>
<rect x="860.35" y="621.1" width="3.5" height="3.8" fill="#089981"/>
<line x1="866.2" y1="623.4" x2="866.2" y2="642.5" stroke="#f23645" stroke-width="1.25"/>
<rect x="864.44" y="627.0" width="3.5" height="15.2" fill="#f23645"/>
<line x1="870.3" y1="601.3" x2="870.3" y2="648.2" stroke="#089981" stroke-width="1.25"/>
<rect x="868.52" y="602.0" width="3.5" height="44.4" fill="#089981"/>
<line x1="874.4" y1="595.5" x2="874.4" y2="607.9" stroke="#089981" stroke-width="1.25"/>
<rect x="872.61" y="603.7" width="3.5" height="3.9" fill="#089981"/>
<line x1="878.4" y1="594.3" x2="878.4" y2="607.2" stroke="#f23645" stroke-width="1.25"/>
<rect x="876.70" y="603.2" width="3.5" height="3.7" fill="#f23645"/>
<line x1="882.5" y1="603.1" x2="882.5" y2="643.0" stroke="#f23645" stroke-width="1.25"/>
<rect x="880.78" y="605.8" width="3.5" height="24.0" fill="#f23645"/>
<line x1="886.6" y1="612.7" x2="886.6" y2="624.9" stroke="#089981" stroke-width="1.25"/>
<rect x="884.87" y="618.9" width="3.5" height="1.5" fill="#089981"/>
<line x1="890.7" y1="617.4" x2="890.7" y2="632.2" stroke="#f23645" stroke-width="1.25"/>
<rect x="888.95" y="618.2" width="3.5" height="13.3" fill="#f23645"/>
<line x1="894.8" y1="626.8" x2="894.8" y2="638.4" stroke="#f23645" stroke-width="1.25"/>
<rect x="893.04" y="630.5" width="3.5" height="2.3" fill="#f23645"/>
<line x1="898.9" y1="628.4" x2="898.9" y2="635.0" stroke="#089981" stroke-width="1.25"/>
<rect x="897.13" y="628.8" width="3.5" height="5.9" fill="#089981"/>
<line x1="903.0" y1="624.2" x2="903.0" y2="631.0" stroke="#089981" stroke-width="1.25"/>
<rect x="901.21" y="624.5" width="3.5" height="4.5" fill="#089981"/>
<line x1="907.0" y1="624.9" x2="907.0" y2="632.4" stroke="#f23645" stroke-width="1.25"/>
<rect x="905.30" y="625.4" width="3.5" height="3.6" fill="#f23645"/>
<line x1="911.1" y1="629.4" x2="911.1" y2="641.5" stroke="#f23645" stroke-width="1.25"/>
<rect x="909.38" y="631.4" width="3.5" height="6.3" fill="#f23645"/>
<line x1="915.2" y1="635.5" x2="915.2" y2="652.8" stroke="#f23645" stroke-width="1.25"/>
<rect x="913.47" y="638.5" width="3.5" height="8.5" fill="#f23645"/>
<line x1="919.3" y1="643.7" x2="919.3" y2="651.3" stroke="#f23645" stroke-width="1.25"/>
<rect x="917.56" y="648.2" width="3.5" height="2.3" fill="#f23645"/>
<line x1="923.4" y1="632.4" x2="923.4" y2="672.3" stroke="#089981" stroke-width="1.25"/>
<rect x="921.64" y="648.2" width="3.5" height="3.8" fill="#089981"/>
<line x1="927.5" y1="652.0" x2="927.5" y2="670.8" stroke="#089981" stroke-width="1.25"/>
<rect x="925.73" y="655.0" width="3.5" height="3.0" fill="#089981"/>
<line x1="931.6" y1="656.5" x2="931.6" y2="675.3" stroke="#f23645" stroke-width="1.25"/>
<rect x="929.81" y="661.5" width="3.5" height="4.5" fill="#f23645"/>
<line x1="935.6" y1="657.3" x2="935.6" y2="676.1" stroke="#f23645" stroke-width="1.25"/>
<rect x="933.90" y="666.3" width="3.5" height="9.0" fill="#f23645"/>
<line x1="939.7" y1="675.3" x2="939.7" y2="691.1" stroke="#f23645" stroke-width="1.25"/>
<rect x="937.99" y="678.6" width="3.5" height="4.3" fill="#f23645"/>
<line x1="943.8" y1="685.9" x2="943.8" y2="691.6" stroke="#f23645" stroke-width="1.25"/>
<rect x="942.07" y="687.1" width="3.5" height="3.3" fill="#f23645"/>
<line x1="947.9" y1="680.6" x2="947.9" y2="687.7" stroke="#089981" stroke-width="1.25"/>
<rect x="946.16" y="682.9" width="3.5" height="4.5" fill="#089981"/>
<line x1="952.0" y1="698.6" x2="952.0" y2="715.2" stroke="#f23645" stroke-width="1.25"/>
<rect x="950.24" y="701.2" width="3.5" height="10.2" fill="#f23645"/>
<line x1="956.1" y1="704.2" x2="956.1" y2="720.5" stroke="#089981" stroke-width="1.25"/>
<rect x="954.33" y="704.2" width="3.5" height="8.7" fill="#089981"/>
<line x1="960.2" y1="690.4" x2="960.2" y2="697.1" stroke="#089981" stroke-width="1.25"/>
<rect x="958.42" y="690.4" width="3.5" height="1.0" fill="#089981"/>
<line x1="964.3" y1="686.6" x2="964.3" y2="694.9" stroke="#f23645" stroke-width="1.25"/>
<rect x="962.50" y="690.1" width="3.5" height="4.5" fill="#f23645"/>
<line x1="968.3" y1="680.6" x2="968.3" y2="690.4" stroke="#089981" stroke-width="1.25"/>
<rect x="966.59" y="683.6" width="3.5" height="1.2" fill="#089981"/>
<line x1="972.4" y1="664.8" x2="972.4" y2="685.1" stroke="#089981" stroke-width="1.25"/>
<rect x="970.67" y="676.8" width="3.5" height="6.1" fill="#089981"/>
<line x1="976.5" y1="670.1" x2="976.5" y2="675.3" stroke="#089981" stroke-width="1.25"/>
<rect x="974.76" y="672.3" width="3.5" height="2.3" fill="#089981"/>
<line x1="980.6" y1="677.3" x2="980.6" y2="689.9" stroke="#f23645" stroke-width="1.25"/>
<rect x="978.85" y="677.6" width="3.5" height="12.0" fill="#f23645"/>
<line x1="984.7" y1="688.9" x2="984.7" y2="692.5" stroke="#f23645" stroke-width="1.25"/>
<rect x="982.93" y="689.2" width="3.5" height="3.0" fill="#f23645"/>
<line x1="988.8" y1="679.1" x2="988.8" y2="692.9" stroke="#089981" stroke-width="1.25"/>
<rect x="987.02" y="685.1" width="3.5" height="7.5" fill="#089981"/>
<line x1="992.9" y1="679.8" x2="992.9" y2="688.9" stroke="#089981" stroke-width="1.25"/>
<rect x="991.10" y="681.3" width="3.5" height="3.8" fill="#089981"/>
<line x1="996.9" y1="678.3" x2="996.9" y2="682.1" stroke="#f23645" stroke-width="1.25"/>
<rect x="995.19" y="680.6" width="3.5" height="1.0" fill="#f23645"/>
<line x1="1001.0" y1="682.1" x2="1001.0" y2="688.9" stroke="#f23645" stroke-width="1.25"/>
<rect x="999.28" y="682.1" width="3.5" height="5.0" fill="#f23645"/>
<line x1="1005.1" y1="670.8" x2="1005.1" y2="687.7" stroke="#089981" stroke-width="1.25"/>
<rect x="1003.36" y="676.1" width="3.5" height="11.3" fill="#089981"/>
<line x1="1009.2" y1="646.4" x2="1009.2" y2="671.1" stroke="#089981" stroke-width="1.25"/>
<rect x="1007.45" y="646.7" width="3.5" height="24.1" fill="#089981"/>
<line x1="1013.3" y1="601.5" x2="1013.3" y2="652.8" stroke="#f23645" stroke-width="1.25"/>
<rect x="1011.53" y="647.0" width="3.5" height="3.7" fill="#f23645"/>
<line x1="1017.4" y1="648.9" x2="1017.4" y2="662.8" stroke="#089981" stroke-width="1.25"/>
<rect x="1015.62" y="649.2" width="3.5" height="13.3" fill="#089981"/>
<line x1="1021.5" y1="651.0" x2="1021.5" y2="657.0" stroke="#089981" stroke-width="1.25"/>
<rect x="1019.71" y="653.0" width="3.5" height="2.5" fill="#089981"/>
<line x1="1025.5" y1="627.7" x2="1025.5" y2="654.0" stroke="#089981" stroke-width="1.25"/>
<rect x="1023.79" y="628.1" width="3.5" height="22.1" fill="#089981"/>
<line x1="1029.6" y1="629.2" x2="1029.6" y2="646.5" stroke="#f23645" stroke-width="1.25"/>
<rect x="1027.88" y="631.4" width="3.5" height="3.8" fill="#f23645"/>
<line x1="1033.7" y1="621.7" x2="1033.7" y2="639.3" stroke="#089981" stroke-width="1.25"/>
<rect x="1031.96" y="637.9" width="3.5" height="1.1" fill="#089981"/>
<line x1="1037.8" y1="629.2" x2="1037.8" y2="650.2" stroke="#f23645" stroke-width="1.25"/>
<rect x="1036.05" y="641.7" width="3.5" height="3.3" fill="#f23645"/>
<line x1="1041.9" y1="632.9" x2="1041.9" y2="648.0" stroke="#f23645" stroke-width="1.25"/>
<rect x="1040.14" y="634.4" width="3.5" height="2.3" fill="#f23645"/>
<line x1="1046.0" y1="636.0" x2="1046.0" y2="648.7" stroke="#089981" stroke-width="1.25"/>
<rect x="1044.22" y="642.0" width="3.5" height="1.0" fill="#089981"/>
<line x1="1050.1" y1="629.2" x2="1050.1" y2="648.0" stroke="#089981" stroke-width="1.25"/>
<rect x="1048.31" y="636.7" width="3.5" height="6.0" fill="#089981"/>
<line x1="1054.1" y1="605.1" x2="1054.1" y2="632.2" stroke="#089981" stroke-width="1.25"/>
<rect x="1052.39" y="612.7" width="3.5" height="13.6" fill="#089981"/>
<line x1="1058.2" y1="555.5" x2="1058.2" y2="611.9" stroke="#089981" stroke-width="1.25"/>
<rect x="1056.48" y="571.3" width="3.5" height="34.3" fill="#089981"/>
<line x1="1062.3" y1="563.7" x2="1062.3" y2="605.1" stroke="#f23645" stroke-width="1.25"/>
<rect x="1060.57" y="574.3" width="3.5" height="13.5" fill="#f23645"/>
<line x1="1066.4" y1="515.9" x2="1066.4" y2="605.1" stroke="#089981" stroke-width="1.25"/>
<rect x="1064.65" y="523.1" width="3.5" height="66.2" fill="#089981"/>
<line x1="1070.5" y1="526.9" x2="1070.5" y2="566.0" stroke="#089981" stroke-width="1.25"/>
<rect x="1068.74" y="538.9" width="3.5" height="6.0" fill="#089981"/>
<line x1="1074.6" y1="502.8" x2="1074.6" y2="557.0" stroke="#089981" stroke-width="1.25"/>
<rect x="1072.82" y="521.3" width="3.5" height="15.6" fill="#089981"/>
<line x1="1078.7" y1="518.3" x2="1078.7" y2="569.7" stroke="#f23645" stroke-width="1.25"/>
<rect x="1076.91" y="530.9" width="3.5" height="4.2" fill="#f23645"/>
<line x1="1082.7" y1="528.4" x2="1082.7" y2="560.0" stroke="#f23645" stroke-width="1.25"/>
<rect x="1081.00" y="536.6" width="3.5" height="22.9" fill="#f23645"/>
<line x1="1086.8" y1="544.2" x2="1086.8" y2="560.0" stroke="#089981" stroke-width="1.25"/>
<rect x="1085.08" y="554.7" width="3.5" height="1.0" fill="#089981"/>
<line x1="1090.9" y1="555.6" x2="1090.9" y2="619.5" stroke="#f23645" stroke-width="1.25"/>
<rect x="1089.17" y="555.9" width="3.5" height="51.9" fill="#f23645"/>
<line x1="1095.0" y1="595.3" x2="1095.0" y2="612.1" stroke="#089981" stroke-width="1.25"/>
<rect x="1093.25" y="599.3" width="3.5" height="12.5" fill="#089981"/>
<line x1="1099.1" y1="596.8" x2="1099.1" y2="632.6" stroke="#f23645" stroke-width="1.25"/>
<rect x="1097.34" y="597.6" width="3.5" height="31.3" fill="#f23645"/>
<line x1="1103.2" y1="626.2" x2="1103.2" y2="658.2" stroke="#f23645" stroke-width="1.25"/>
<rect x="1101.43" y="637.5" width="3.5" height="20.4" fill="#f23645"/>
<line x1="1107.3" y1="649.3" x2="1107.3" y2="671.5" stroke="#089981" stroke-width="1.25"/>
<rect x="1105.51" y="649.6" width="3.5" height="4.6" fill="#089981"/>
<line x1="1111.3" y1="645.1" x2="1111.3" y2="678.5" stroke="#f23645" stroke-width="1.25"/>
<rect x="1109.60" y="647.8" width="3.5" height="30.4" fill="#f23645"/>
<line x1="1115.4" y1="670.7" x2="1115.4" y2="683.5" stroke="#f23645" stroke-width="1.25"/>
<rect x="1113.68" y="680.0" width="3.5" height="1.3" fill="#f23645"/>
<line x1="1119.5" y1="676.0" x2="1119.5" y2="686.4" stroke="#f23645" stroke-width="1.25"/>
<rect x="1117.77" y="682.0" width="3.5" height="4.1" fill="#f23645"/>
<line x1="1123.6" y1="681.3" x2="1123.6" y2="706.1" stroke="#f23645" stroke-width="1.25"/>
<rect x="1121.86" y="683.5" width="3.5" height="3.0" fill="#f23645"/>
<line x1="1127.7" y1="670.0" x2="1127.7" y2="682.0" stroke="#089981" stroke-width="1.25"/>
<rect x="1125.94" y="678.2" width="3.5" height="3.1" fill="#089981"/>
<line x1="1131.8" y1="667.0" x2="1131.8" y2="676.7" stroke="#089981" stroke-width="1.25"/>
<rect x="1130.03" y="672.2" width="3.5" height="1.0" fill="#089981"/>
<line x1="1135.9" y1="670.7" x2="1135.9" y2="684.3" stroke="#f23645" stroke-width="1.25"/>
<rect x="1134.11" y="671.5" width="3.5" height="9.8" fill="#f23645"/>
<line x1="1140.0" y1="672.2" x2="1140.0" y2="690.3" stroke="#089981" stroke-width="1.25"/>
<rect x="1138.20" y="682.0" width="3.5" height="1.5" fill="#089981"/>
<line x1="1144.0" y1="676.0" x2="1144.0" y2="683.5" stroke="#f23645" stroke-width="1.25"/>
<rect x="1142.29" y="677.9" width="3.5" height="1.5" fill="#f23645"/>
<line x1="1148.1" y1="662.0" x2="1148.1" y2="680.5" stroke="#089981" stroke-width="1.25"/>
<rect x="1146.37" y="673.4" width="3.5" height="6.0" fill="#089981"/>
<line x1="1152.2" y1="670.7" x2="1152.2" y2="678.2" stroke="#089981" stroke-width="1.25"/>
<rect x="1150.46" y="671.9" width="3.5" height="3.0" fill="#089981"/>
<line x1="1156.3" y1="672.2" x2="1156.3" y2="679.7" stroke="#f23645" stroke-width="1.25"/>
<rect x="1154.54" y="673.0" width="3.5" height="5.2" fill="#f23645"/>
<line x1="1160.4" y1="665.9" x2="1160.4" y2="675.5" stroke="#089981" stroke-width="1.25"/>
<rect x="1158.63" y="670.4" width="3.5" height="4.8" fill="#089981"/>
<line x1="1164.5" y1="648.9" x2="1164.5" y2="668.8" stroke="#089981" stroke-width="1.25"/>
<rect x="1162.72" y="651.2" width="3.5" height="17.3" fill="#089981"/>
<line x1="1168.6" y1="637.6" x2="1168.6" y2="657.2" stroke="#f23645" stroke-width="1.25"/>
<rect x="1166.80" y="645.1" width="3.5" height="11.3" fill="#f23645"/>
<line x1="1172.6" y1="637.6" x2="1172.6" y2="655.5" stroke="#089981" stroke-width="1.25"/>
<rect x="1170.89" y="647.4" width="3.5" height="7.5" fill="#089981"/>
<line x1="1176.7" y1="632.4" x2="1176.7" y2="648.1" stroke="#f23645" stroke-width="1.25"/>
<rect x="1174.97" y="642.4" width="3.5" height="3.0" fill="#f23645"/>
<line x1="1180.8" y1="639.9" x2="1180.8" y2="673.0" stroke="#f23645" stroke-width="1.25"/>
<rect x="1179.06" y="640.3" width="3.5" height="25.9" fill="#f23645"/>
<line x1="1184.9" y1="657.9" x2="1184.9" y2="676.7" stroke="#f23645" stroke-width="1.25"/>
<rect x="1183.15" y="668.5" width="3.5" height="6.0" fill="#f23645"/>
<line x1="1189.0" y1="670.0" x2="1189.0" y2="684.3" stroke="#f23645" stroke-width="1.25"/>
<rect x="1187.23" y="676.0" width="3.5" height="4.5" fill="#f23645"/>
<line x1="1193.1" y1="678.2" x2="1193.1" y2="686.5" stroke="#f23645" stroke-width="1.25"/>
<rect x="1191.32" y="680.5" width="3.5" height="2.3" fill="#f23645"/>
<line x1="1197.2" y1="667.7" x2="1197.2" y2="686.8" stroke="#089981" stroke-width="1.25"/>
<rect x="1195.40" y="673.4" width="3.5" height="13.1" fill="#089981"/>
<line x1="1201.2" y1="667.0" x2="1201.2" y2="674.5" stroke="#089981" stroke-width="1.25"/>
<rect x="1199.49" y="668.5" width="3.5" height="3.7" fill="#089981"/>
<line x1="1205.3" y1="660.9" x2="1205.3" y2="670.7" stroke="#089981" stroke-width="1.25"/>
<rect x="1203.58" y="662.4" width="3.5" height="7.6" fill="#089981"/>
<line x1="1209.4" y1="661.7" x2="1209.4" y2="676.7" stroke="#f23645" stroke-width="1.25"/>
<rect x="1207.66" y="663.9" width="3.5" height="8.3" fill="#f23645"/>
<line x1="1213.5" y1="663.2" x2="1213.5" y2="683.5" stroke="#f23645" stroke-width="1.25"/>
<rect x="1211.75" y="664.7" width="3.5" height="10.5" fill="#f23645"/>
<line x1="1217.6" y1="670.4" x2="1217.6" y2="677.5" stroke="#089981" stroke-width="1.25"/>
<rect x="1215.83" y="670.7" width="3.5" height="6.3" fill="#089981"/>
<line x1="1221.7" y1="673.0" x2="1221.7" y2="677.5" stroke="#f23645" stroke-width="1.25"/>
<rect x="1219.92" y="675.2" width="3.5" height="1.8" fill="#f23645"/>
<line x1="1225.8" y1="670.2" x2="1225.8" y2="672.0" stroke="#f23645" stroke-width="1.25"/>
<rect x="1224.01" y="670.7" width="3.5" height="1.0" fill="#f23645"/>
<line x1="1229.8" y1="676.7" x2="1229.8" y2="682.8" stroke="#f23645" stroke-width="1.25"/>
<rect x="1228.09" y="677.5" width="3.5" height="4.5" fill="#f23645"/>
<line x1="1233.9" y1="679.0" x2="1233.9" y2="691.0" stroke="#f23645" stroke-width="1.25"/>
<rect x="1232.18" y="680.5" width="3.5" height="6.0" fill="#f23645"/>
<line x1="1238.0" y1="682.5" x2="1238.0" y2="692.1" stroke="#089981" stroke-width="1.25"/>
<rect x="1236.26" y="685.8" width="3.5" height="1.0" fill="#089981"/>
<line x1="1242.1" y1="684.3" x2="1242.1" y2="694.8" stroke="#f23645" stroke-width="1.25"/>
<rect x="1240.35" y="686.5" width="3.5" height="6.8" fill="#f23645"/>
<line x1="1246.2" y1="682.5" x2="1246.2" y2="693.0" stroke="#089981" stroke-width="1.25"/>
<rect x="1244.44" y="685.5" width="3.5" height="7.0" fill="#089981"/>
<line x1="1250.3" y1="669.2" x2="1250.3" y2="682.8" stroke="#089981" stroke-width="1.25"/>
<rect x="1248.52" y="677.5" width="3.5" height="4.5" fill="#089981"/>
<line x1="1254.4" y1="671.5" x2="1254.4" y2="680.5" stroke="#f23645" stroke-width="1.25"/>
<rect x="1252.61" y="673.0" width="3.5" height="4.5" fill="#f23645"/>
<line x1="1258.4" y1="670.7" x2="1258.4" y2="679.7" stroke="#089981" stroke-width="1.25"/>
<rect x="1256.69" y="672.2" width="3.5" height="5.3" fill="#089981"/>
<line x1="1262.5" y1="671.9" x2="1262.5" y2="679.0" stroke="#f23645" stroke-width="1.25"/>
<rect x="1260.78" y="672.2" width="3.5" height="6.0" fill="#f23645"/>
<line x1="1266.6" y1="673.7" x2="1266.6" y2="678.5" stroke="#089981" stroke-width="1.25"/>
<rect x="1264.87" y="676.0" width="3.5" height="1.9" fill="#089981"/>
<line x1="1270.7" y1="671.5" x2="1270.7" y2="676.7" stroke="#089981" stroke-width="1.25"/>
<rect x="1268.95" y="673.0" width="3.5" height="1.5" fill="#089981"/>
<line x1="1274.8" y1="667.0" x2="1274.8" y2="674.8" stroke="#089981" stroke-width="1.25"/>
<rect x="1273.04" y="668.5" width="3.5" height="6.0" fill="#089981"/>
<line x1="1278.9" y1="667.0" x2="1278.9" y2="673.7" stroke="#089981" stroke-width="1.25"/>
<rect x="1277.12" y="670.0" width="3.5" height="1.0" fill="#089981"/>
<line x1="98.1" y1="114.6" x2="1490" y2="667.5" stroke="#9c27b0" stroke-width="3" stroke-linecap="round"/>
<line x1="955.3" y1="720.5" x2="1490" y2="673.4" stroke="#ad1457" stroke-width="2.5" stroke-linecap="butt"/>
</g>
<g transform="translate(1278.5,791.2)">
<path d="M4.6,-12.2 A13,13 0 1 0 12.4,-3.9" fill="none" stroke="url(#gbolt)" stroke-width="1.6" stroke-linecap="round"/>
<path d="M3.2,-6.4 L-4.8,1.3 L-0.8,1.3 L-3.4,7 L4.6,-0.9 L0.6,-0.9 Z" fill="#9c27b0" stroke="#9c27b0" stroke-width="0.7" stroke-linejoin="round"/>
<circle cx="9.7" cy="-9.2" r="3.2" fill="#f23645"/>
</g>
<use href="#flag" x="1311" y="791.2"/>
<use href="#flag" x="1336" y="791.2"/>
<use href="#flag" x="1360.7" y="791.2"/>
<use href="#flag" x="1386.2" y="791.2"/>
<g clip-path="url(#cr)">
<rect x="13.5" y="856.25" width="1476.5" height="80" fill="#7e57c2" fill-opacity="0.1"/>
<g stroke="#6a6d78" stroke-width="1.2" stroke-dasharray="6.3 8.287">
<line x1="13.75" y1="856.25" x2="1490" y2="856.25"/>
<line x1="13.75" y1="936.25" x2="1490" y2="936.25"/>
</g>
<line x1="13.75" y1="896.25" x2="1490" y2="896.25" stroke="#6a6d78" stroke-opacity="0.75" stroke-width="1.1" stroke-dasharray="6.3 8.287"/>
<polygon points="13.5,856.25 13.5,900.8 16.3,900.0 20.4,900.5 24.5,904.7 28.6,905.5 32.6,905.5 36.7,919.4 40.8,917.9 44.9,909.3 49.0,901.6 53.1,909.2 57.2,896.9 61.2,894.4 65.3,887.7 69.4,902.5 73.5,896.5 77.6,890.5 81.7,879.9 85.8,882.0 89.8,894.8 93.9,882.3 98.0,839.1 102.1,862.0 106.2,864.3 110.3,871.1 114.4,868.0 118.5,859.9 122.5,887.8 126.6,896.8 130.7,898.0 134.8,904.6 138.9,906.2 143.0,906.3 147.1,913.5 151.1,916.9 155.2,917.3 159.3,913.3 163.4,916.7 167.5,912.4 171.6,923.8 175.7,916.5 179.7,914.2 183.8,919.6 187.9,913.7 192.0,907.8 196.1,909.2 200.2,908.5 204.3,910.4 208.3,908.6 212.4,909.7 216.5,907.8 220.6,908.8 224.7,904.2 228.8,905.9 232.9,908.9 236.9,909.4 241.0,903.9 245.1,871.7 249.2,889.4 253.3,890.0 257.4,900.0 261.5,905.6 265.5,906.6 269.6,911.3 273.7,912.6 277.8,917.4 281.9,927.1 286.0,935.3 290.1,929.0 294.1,931.2 298.2,937.0 302.3,952.1 306.4,930.0 310.5,932.1 314.6,925.6 318.7,917.4 322.8,922.2 326.8,927.6 330.9,928.8 335.0,931.2 339.1,936.8 343.2,937.0 347.3,944.4 351.4,937.4 355.4,934.3 359.5,928.7 363.6,961.2 367.7,967.5 371.8,970.4 375.9,950.0 380.0,953.6 384.0,954.7 388.1,945.6 392.2,936.5 396.3,919.2 400.4,925.4 404.5,927.7 408.6,922.5 412.6,925.5 416.7,928.9 420.8,927.2 424.9,931.2 429.0,923.7 433.1,915.0 437.2,914.4 441.2,924.0 445.3,926.5 449.4,922.8 453.5,930.9 457.6,936.5 461.7,928.2 465.8,935.4 469.8,929.3 473.9,930.6 478.0,920.4 482.1,919.3 486.2,918.9 490.3,909.4 494.4,906.4 498.4,890.7 502.5,897.0 506.6,890.1 510.7,888.4 514.8,877.0 518.9,877.0 523.0,885.6 527.1,887.6 531.1,874.6 535.2,865.5 539.3,859.5 543.4,842.6 547.5,837.0 551.6,834.2 555.7,829.5 559.7,827.0 563.8,843.7 567.9,875.1 572.0,877.0 576.1,894.2 580.2,882.1 584.3,889.4 588.3,878.6 592.4,878.6 596.5,887.8 600.6,885.3 604.7,887.5 608.8,890.2 612.9,902.1 616.9,905.8 621.0,908.2 625.1,904.9 629.2,897.7 633.3,894.4 637.4,894.4 641.5,895.1 645.5,885.8 649.6,889.1 653.7,884.9 657.8,883.6 661.9,877.5 666.0,884.2 670.1,900.2 674.1,913.5 678.2,913.7 682.3,914.8 686.4,902.1 690.5,908.7 694.6,908.5 698.7,920.4 702.7,909.2 706.8,899.2 710.9,901.9 715.0,903.3 719.1,910.4 723.2,905.1 727.3,907.3 731.4,902.7 735.4,904.0 739.5,899.8 743.6,891.3 747.7,892.0 751.8,903.0 755.9,904.6 760.0,915.2 764.0,922.0 768.1,939.2 772.2,936.2 776.3,929.6 780.4,932.6 784.5,940.5 788.6,935.6 792.6,924.8 796.7,933.3 800.8,938.3 804.9,941.6 809.0,930.5 813.1,923.4 817.2,929.0 821.2,922.9 825.3,907.5 829.4,896.6 833.5,885.4 837.6,892.4 841.7,906.1 845.8,911.2 849.8,910.6 853.9,907.7 858.0,904.3 862.1,894.6 866.2,905.7 870.3,885.7 874.4,886.6 878.4,888.4 882.5,900.6 886.6,894.9 890.7,901.3 894.8,902.0 898.9,899.6 903.0,896.9 907.0,899.7 911.1,905.0 915.2,910.5 919.3,912.5 923.4,910.6 927.5,914.9 931.6,921.3 935.6,926.4 939.7,930.3 943.8,934.1 947.9,926.2 952.0,939.5 956.1,932.4 960.2,919.9 964.3,922.1 968.3,912.5 972.4,906.9 976.5,903.2 980.6,914.5 984.7,916.1 988.8,909.7 992.9,906.3 996.9,906.5 1001.0,910.8 1005.1,900.1 1009.2,878.1 1013.3,881.7 1017.4,880.7 1021.5,884.3 1025.5,868.2 1029.6,875.0 1033.7,877.6 1037.8,884.4 1041.9,878.5 1046.0,883.6 1050.1,879.7 1054.1,864.6 1058.2,847.5 1062.3,861.9 1066.4,842.8 1070.5,853.7 1074.6,849.2 1078.7,858.4 1082.7,873.0 1086.8,871.3 1090.9,897.2 1095.0,893.7 1099.1,905.5 1103.2,915.3 1107.3,911.4 1111.3,920.5 1115.4,921.4 1119.5,922.9 1123.6,923.0 1127.7,918.1 1131.8,914.6 1135.9,918.3 1140.0,918.6 1144.0,916.8 1148.1,912.5 1152.2,911.4 1156.3,914.9 1160.4,908.7 1164.5,895.1 1168.6,898.6 1172.6,892.5 1176.7,891.1 1180.8,905.4 1184.9,910.5 1189.0,914.0 1193.1,915.4 1197.2,907.2 1201.2,903.1 1205.3,898.0 1209.4,905.5 1213.5,907.7 1217.6,903.4 1221.7,908.5 1225.8,903.1 1229.8,911.5 1233.9,914.9 1238.0,914.1 1242.1,920.0 1246.2,910.8 1250.3,902.1 1254.4,902.1 1258.4,896.3 1262.5,902.6 1266.6,900.0 1270.7,896.4 1274.8,891.2 1278.9,893.1 1278.9,856.25" fill="url(#gup)" clip-path="url(#c70)"/>
<polygon points="13.5,936.25 13.5,900.8 16.3,900.0 20.4,900.5 24.5,904.7 28.6,905.5 32.6,905.5 36.7,919.4 40.8,917.9 44.9,909.3 49.0,901.6 53.1,909.2 57.2,896.9 61.2,894.4 65.3,887.7 69.4,902.5 73.5,896.5 77.6,890.5 81.7,879.9 85.8,882.0 89.8,894.8 93.9,882.3 98.0,839.1 102.1,862.0 106.2,864.3 110.3,871.1 114.4,868.0 118.5,859.9 122.5,887.8 126.6,896.8 130.7,898.0 134.8,904.6 138.9,906.2 143.0,906.3 147.1,913.5 151.1,916.9 155.2,917.3 159.3,913.3 163.4,916.7 167.5,912.4 171.6,923.8 175.7,916.5 179.7,914.2 183.8,919.6 187.9,913.7 192.0,907.8 196.1,909.2 200.2,908.5 204.3,910.4 208.3,908.6 212.4,909.7 216.5,907.8 220.6,908.8 224.7,904.2 228.8,905.9 232.9,908.9 236.9,909.4 241.0,903.9 245.1,871.7 249.2,889.4 253.3,890.0 257.4,900.0 261.5,905.6 265.5,906.6 269.6,911.3 273.7,912.6 277.8,917.4 281.9,927.1 286.0,935.3 290.1,929.0 294.1,931.2 298.2,937.0 302.3,952.1 306.4,930.0 310.5,932.1 314.6,925.6 318.7,917.4 322.8,922.2 326.8,927.6 330.9,928.8 335.0,931.2 339.1,936.8 343.2,937.0 347.3,944.4 351.4,937.4 355.4,934.3 359.5,928.7 363.6,961.2 367.7,967.5 371.8,970.4 375.9,950.0 380.0,953.6 384.0,954.7 388.1,945.6 392.2,936.5 396.3,919.2 400.4,925.4 404.5,927.7 408.6,922.5 412.6,925.5 416.7,928.9 420.8,927.2 424.9,931.2 429.0,923.7 433.1,915.0 437.2,914.4 441.2,924.0 445.3,926.5 449.4,922.8 453.5,930.9 457.6,936.5 461.7,928.2 465.8,935.4 469.8,929.3 473.9,930.6 478.0,920.4 482.1,919.3 486.2,918.9 490.3,909.4 494.4,906.4 498.4,890.7 502.5,897.0 506.6,890.1 510.7,888.4 514.8,877.0 518.9,877.0 523.0,885.6 527.1,887.6 531.1,874.6 535.2,865.5 539.3,859.5 543.4,842.6 547.5,837.0 551.6,834.2 555.7,829.5 559.7,827.0 563.8,843.7 567.9,875.1 572.0,877.0 576.1,894.2 580.2,882.1 584.3,889.4 588.3,878.6 592.4,878.6 596.5,887.8 600.6,885.3 604.7,887.5 608.8,890.2 612.9,902.1 616.9,905.8 621.0,908.2 625.1,904.9 629.2,897.7 633.3,894.4 637.4,894.4 641.5,895.1 645.5,885.8 649.6,889.1 653.7,884.9 657.8,883.6 661.9,877.5 666.0,884.2 670.1,900.2 674.1,913.5 678.2,913.7 682.3,914.8 686.4,902.1 690.5,908.7 694.6,908.5 698.7,920.4 702.7,909.2 706.8,899.2 710.9,901.9 715.0,903.3 719.1,910.4 723.2,905.1 727.3,907.3 731.4,902.7 735.4,904.0 739.5,899.8 743.6,891.3 747.7,892.0 751.8,903.0 755.9,904.6 760.0,915.2 764.0,922.0 768.1,939.2 772.2,936.2 776.3,929.6 780.4,932.6 784.5,940.5 788.6,935.6 792.6,924.8 796.7,933.3 800.8,938.3 804.9,941.6 809.0,930.5 813.1,923.4 817.2,929.0 821.2,922.9 825.3,907.5 829.4,896.6 833.5,885.4 837.6,892.4 841.7,906.1 845.8,911.2 849.8,910.6 853.9,907.7 858.0,904.3 862.1,894.6 866.2,905.7 870.3,885.7 874.4,886.6 878.4,888.4 882.5,900.6 886.6,894.9 890.7,901.3 894.8,902.0 898.9,899.6 903.0,896.9 907.0,899.7 911.1,905.0 915.2,910.5 919.3,912.5 923.4,910.6 927.5,914.9 931.6,921.3 935.6,926.4 939.7,930.3 943.8,934.1 947.9,926.2 952.0,939.5 956.1,932.4 960.2,919.9 964.3,922.1 968.3,912.5 972.4,906.9 976.5,903.2 980.6,914.5 984.7,916.1 988.8,909.7 992.9,906.3 996.9,906.5 1001.0,910.8 1005.1,900.1 1009.2,878.1 1013.3,881.7 1017.4,880.7 1021.5,884.3 1025.5,868.2 1029.6,875.0 1033.7,877.6 1037.8,884.4 1041.9,878.5 1046.0,883.6 1050.1,879.7 1054.1,864.6 1058.2,847.5 1062.3,861.9 1066.4,842.8 1070.5,853.7 1074.6,849.2 1078.7,858.4 1082.7,873.0 1086.8,871.3 1090.9,897.2 1095.0,893.7 1099.1,905.5 1103.2,915.3 1107.3,911.4 1111.3,920.5 1115.4,921.4 1119.5,922.9 1123.6,923.0 1127.7,918.1 1131.8,914.6 1135.9,918.3 1140.0,918.6 1144.0,916.8 1148.1,912.5 1152.2,911.4 1156.3,914.9 1160.4,908.7 1164.5,895.1 1168.6,898.6 1172.6,892.5 1176.7,891.1 1180.8,905.4 1184.9,910.5 1189.0,914.0 1193.1,915.4 1197.2,907.2 1201.2,903.1 1205.3,898.0 1209.4,905.5 1213.5,907.7 1217.6,903.4 1221.7,908.5 1225.8,903.1 1229.8,911.5 1233.9,914.9 1238.0,914.1 1242.1,920.0 1246.2,910.8 1250.3,902.1 1254.4,902.1 1258.4,896.3 1262.5,902.6 1266.6,900.0 1270.7,896.4 1274.8,891.2 1278.9,893.1 1278.9,936.25" fill="url(#gdn)" clip-path="url(#c30)"/>
<polyline points="13.5,913.8 16.3,913.1 20.4,911.1 24.5,909.6 28.6,908.4 32.6,907.3 36.7,907.3 40.8,907.4 44.9,907.1 49.0,906.3 53.1,906.3 57.2,905.6 61.2,904.8 65.3,903.8 69.4,903.9 73.5,903.7 77.6,903.0 81.7,901.2 85.8,899.5 89.8,898.7 93.9,896.1 98.0,890.5 102.1,887.1 106.2,884.4 110.3,881.7 114.4,879.7 118.5,877.2 122.5,877.2 126.6,876.8 130.7,876.9 134.8,877.9 138.9,879.8 143.0,881.5 147.1,882.8 151.1,885.3 155.2,890.9 159.3,894.6 163.4,898.3 167.5,901.2 171.6,905.2 175.7,909.3 179.7,911.2 183.8,912.8 187.9,913.9 192.0,914.1 196.1,914.4 200.2,914.5 204.3,914.3 208.3,913.7 212.4,913.2 216.5,912.8 220.6,912.2 224.7,911.6 228.8,910.3 232.9,909.8 236.9,909.5 241.0,908.3 245.1,905.3 249.2,904.0 253.3,902.6 257.4,902.0 261.5,901.7 265.5,901.6 269.6,901.7 273.7,902.0 277.8,902.6 281.9,904.3 286.0,906.4 290.1,907.8 294.1,909.4 298.2,911.7 302.3,917.5 306.4,920.4 310.5,923.4 314.6,925.2 318.7,926.1 322.8,927.2 326.8,928.3 330.9,929.5 335.0,930.5 339.1,931.2 343.2,931.3 347.3,932.4 351.4,932.8 355.4,932.6 359.5,931.0 363.6,933.2 367.7,935.7 371.8,938.9 375.9,941.2 380.0,943.5 384.0,945.4 388.1,946.6 392.2,947.0 396.3,945.8 400.4,944.9 404.5,943.7 408.6,942.7 412.6,942.1 416.7,942.1 420.8,939.6 424.9,937.0 429.0,933.7 433.1,931.2 437.2,928.4 441.2,926.2 445.3,924.9 449.4,923.9 453.5,924.7 457.6,925.5 461.7,925.5 465.8,926.5 469.8,926.7 473.9,926.8 478.0,926.4 482.1,925.5 486.2,925.2 490.3,924.8 494.4,924.2 498.4,921.8 502.5,919.7 506.6,917.4 510.7,914.3 514.8,910.1 518.9,906.4 523.0,902.9 527.1,899.9 531.1,895.9 535.2,892.0 539.3,887.7 543.4,882.2 547.5,877.1 551.6,871.9 555.7,867.6 559.7,862.6 563.8,859.2 567.9,858.3 572.0,858.3 576.1,859.5 580.2,859.3 584.3,859.4 588.3,859.7 592.4,860.6 596.5,862.6 600.6,865.7 604.7,869.3 608.8,873.3 612.9,878.5 616.9,884.1 621.0,888.7 625.1,890.8 629.2,892.3 633.3,892.3 637.4,893.2 641.5,893.6 645.5,894.1 649.6,894.9 653.7,894.7 657.8,894.6 661.9,893.9 666.0,893.4 670.1,893.3 674.1,893.8 678.2,894.2 682.3,894.9 686.4,895.2 690.5,896.3 694.6,897.3 698.7,899.1 702.7,900.7 706.8,901.5 710.9,902.7 715.0,904.1 719.1,906.4 723.2,907.9 727.3,908.4 731.4,907.7 735.4,907.0 739.5,905.9 743.6,905.1 747.7,903.9 751.8,903.5 755.9,902.4 760.0,902.8 764.0,904.5 768.1,907.1 772.2,909.5 776.3,910.9 780.4,912.8 784.5,915.2 788.6,917.5 792.6,919.0 796.7,921.4 800.8,924.8 804.9,928.3 809.0,930.3 813.1,931.6 817.2,932.6 821.2,932.7 825.3,930.4 829.4,927.6 833.5,924.4 837.6,921.6 841.7,919.1 845.8,917.4 849.8,916.4 853.9,914.5 858.0,912.1 862.1,908.7 866.2,907.0 870.3,904.3 874.4,901.2 878.4,898.8 882.5,898.3 886.6,898.2 890.7,899.3 894.8,900.0 898.9,899.5 903.0,898.5 907.0,897.7 911.1,897.5 915.2,898.0 919.3,899.2 923.4,899.6 927.5,901.7 931.6,904.2 935.6,906.9 939.7,909.0 943.8,911.8 947.9,913.6 952.0,916.2 956.1,918.6 960.2,920.2 964.3,921.8 968.3,922.4 972.4,922.1 976.5,921.5 980.6,921.7 984.7,921.8 988.8,921.0 992.9,919.5 996.9,917.8 1001.0,916.2 1005.1,914.3 1009.2,909.9 1013.3,906.3 1017.4,903.5 1021.5,900.8 1025.5,897.6 1029.6,895.4 1033.7,893.5 1037.8,891.4 1041.9,888.7 1046.0,886.8 1050.1,884.9 1054.1,882.0 1058.2,877.4 1062.3,874.7 1066.4,872.2 1070.5,870.2 1074.6,867.9 1078.7,866.1 1082.7,866.4 1086.8,866.2 1090.9,867.6 1095.0,868.2 1099.1,870.2 1103.2,872.4 1107.3,874.7 1111.3,878.7 1115.4,883.9 1119.5,888.3 1123.6,894.0 1127.7,898.6 1131.8,903.3 1135.9,907.6 1140.0,910.8 1144.0,914.1 1148.1,915.2 1152.2,916.5 1156.3,917.1 1160.4,916.7 1164.5,915.5 1168.6,913.9 1172.6,911.9 1176.7,909.6 1180.8,908.3 1184.9,907.8 1189.0,907.7 1193.1,907.5 1197.2,906.7 1201.2,905.7 1205.3,904.7 1209.4,904.3 1213.5,903.8 1217.6,903.4 1221.7,904.3 1225.8,904.7 1229.8,906.0 1233.9,907.7 1238.0,908.3 1242.1,909.0 1246.2,908.8 1250.3,907.8 1254.4,907.5 1258.4,907.0 1262.5,907.3 1266.6,906.9 1270.7,906.1 1274.8,905.3 1278.9,904.2" fill="none" stroke="#fdd835" stroke-width="1.4" stroke-linejoin="round"/>
<polyline points="13.5,900.8 16.3,900.0 20.4,900.5 24.5,904.7 28.6,905.5 32.6,905.5 36.7,919.4 40.8,917.9 44.9,909.3 49.0,901.6 53.1,909.2 57.2,896.9 61.2,894.4 65.3,887.7 69.4,902.5 73.5,896.5 77.6,890.5 81.7,879.9 85.8,882.0 89.8,894.8 93.9,882.3 98.0,839.1 102.1,862.0 106.2,864.3 110.3,871.1 114.4,868.0 118.5,859.9 122.5,887.8 126.6,896.8 130.7,898.0 134.8,904.6 138.9,906.2 143.0,906.3 147.1,913.5 151.1,916.9 155.2,917.3 159.3,913.3 163.4,916.7 167.5,912.4 171.6,923.8 175.7,916.5 179.7,914.2 183.8,919.6 187.9,913.7 192.0,907.8 196.1,909.2 200.2,908.5 204.3,910.4 208.3,908.6 212.4,909.7 216.5,907.8 220.6,908.8 224.7,904.2 228.8,905.9 232.9,908.9 236.9,909.4 241.0,903.9 245.1,871.7 249.2,889.4 253.3,890.0 257.4,900.0 261.5,905.6 265.5,906.6 269.6,911.3 273.7,912.6 277.8,917.4 281.9,927.1 286.0,935.3 290.1,929.0 294.1,931.2 298.2,937.0 302.3,952.1 306.4,930.0 310.5,932.1 314.6,925.6 318.7,917.4 322.8,922.2 326.8,927.6 330.9,928.8 335.0,931.2 339.1,936.8 343.2,937.0 347.3,944.4 351.4,937.4 355.4,934.3 359.5,928.7 363.6,961.2 367.7,967.5 371.8,970.4 375.9,950.0 380.0,953.6 384.0,954.7 388.1,945.6 392.2,936.5 396.3,919.2 400.4,925.4 404.5,927.7 408.6,922.5 412.6,925.5 416.7,928.9 420.8,927.2 424.9,931.2 429.0,923.7 433.1,915.0 437.2,914.4 441.2,924.0 445.3,926.5 449.4,922.8 453.5,930.9 457.6,936.5 461.7,928.2 465.8,935.4 469.8,929.3 473.9,930.6 478.0,920.4 482.1,919.3 486.2,918.9 490.3,909.4 494.4,906.4 498.4,890.7 502.5,897.0 506.6,890.1 510.7,888.4 514.8,877.0 518.9,877.0 523.0,885.6 527.1,887.6 531.1,874.6 535.2,865.5 539.3,859.5 543.4,842.6 547.5,837.0 551.6,834.2 555.7,829.5 559.7,827.0 563.8,843.7 567.9,875.1 572.0,877.0 576.1,894.2 580.2,882.1 584.3,889.4 588.3,878.6 592.4,878.6 596.5,887.8 600.6,885.3 604.7,887.5 608.8,890.2 612.9,902.1 616.9,905.8 621.0,908.2 625.1,904.9 629.2,897.7 633.3,894.4 637.4,894.4 641.5,895.1 645.5,885.8 649.6,889.1 653.7,884.9 657.8,883.6 661.9,877.5 666.0,884.2 670.1,900.2 674.1,913.5 678.2,913.7 682.3,914.8 686.4,902.1 690.5,908.7 694.6,908.5 698.7,920.4 702.7,909.2 706.8,899.2 710.9,901.9 715.0,903.3 719.1,910.4 723.2,905.1 727.3,907.3 731.4,902.7 735.4,904.0 739.5,899.8 743.6,891.3 747.7,892.0 751.8,903.0 755.9,904.6 760.0,915.2 764.0,922.0 768.1,939.2 772.2,936.2 776.3,929.6 780.4,932.6 784.5,940.5 788.6,935.6 792.6,924.8 796.7,933.3 800.8,938.3 804.9,941.6 809.0,930.5 813.1,923.4 817.2,929.0 821.2,922.9 825.3,907.5 829.4,896.6 833.5,885.4 837.6,892.4 841.7,906.1 845.8,911.2 849.8,910.6 853.9,907.7 858.0,904.3 862.1,894.6 866.2,905.7 870.3,885.7 874.4,886.6 878.4,888.4 882.5,900.6 886.6,894.9 890.7,901.3 894.8,902.0 898.9,899.6 903.0,896.9 907.0,899.7 911.1,905.0 915.2,910.5 919.3,912.5 923.4,910.6 927.5,914.9 931.6,921.3 935.6,926.4 939.7,930.3 943.8,934.1 947.9,926.2 952.0,939.5 956.1,932.4 960.2,919.9 964.3,922.1 968.3,912.5 972.4,906.9 976.5,903.2 980.6,914.5 984.7,916.1 988.8,909.7 992.9,906.3 996.9,906.5 1001.0,910.8 1005.1,900.1 1009.2,878.1 1013.3,881.7 1017.4,880.7 1021.5,884.3 1025.5,868.2 1029.6,875.0 1033.7,877.6 1037.8,884.4 1041.9,878.5 1046.0,883.6 1050.1,879.7 1054.1,864.6 1058.2,847.5 1062.3,861.9 1066.4,842.8 1070.5,853.7 1074.6,849.2 1078.7,858.4 1082.7,873.0 1086.8,871.3 1090.9,897.2 1095.0,893.7 1099.1,905.5 1103.2,915.3 1107.3,911.4 1111.3,920.5 1115.4,921.4 1119.5,922.9 1123.6,923.0 1127.7,918.1 1131.8,914.6 1135.9,918.3 1140.0,918.6 1144.0,916.8 1148.1,912.5 1152.2,911.4 1156.3,914.9 1160.4,908.7 1164.5,895.1 1168.6,898.6 1172.6,892.5 1176.7,891.1 1180.8,905.4 1184.9,910.5 1189.0,914.0 1193.1,915.4 1197.2,907.2 1201.2,903.1 1205.3,898.0 1209.4,905.5 1213.5,907.7 1217.6,903.4 1221.7,908.5 1225.8,903.1 1229.8,911.5 1233.9,914.9 1238.0,914.1 1242.1,920.0 1246.2,910.8 1250.3,902.1 1254.4,902.1 1258.4,896.3 1262.5,902.6 1266.6,900.0 1270.7,896.4 1274.8,891.2 1278.9,893.1" fill="none" stroke="#7e57c2" stroke-width="1.4" stroke-linejoin="round"/>
</g>
<text y="62.8" class="lg"><tspan x="24.8" textLength="13.6" lengthAdjust="spacingAndGlyphs">Pi</tspan><tspan x="44" textLength="100.4" lengthAdjust="spacingAndGlyphs">Network/USD</tspan><tspan x="148.6" textLength="5.6" lengthAdjust="spacingAndGlyphs">·</tspan><tspan x="159.75" textLength="18.3" lengthAdjust="spacingAndGlyphs">4h</tspan><tspan x="182.8" textLength="5.6" lengthAdjust="spacingAndGlyphs">·</tspan><tspan x="193.5" textLength="32.7" lengthAdjust="spacingAndGlyphs">OKX</tspan></text>
<text class="lg" x="236.5" y="62.8" textLength="12" lengthAdjust="spacingAndGlyphs">O</text>
<text class="lg" x="249" y="62.8" textLength="52.5" lengthAdjust="spacingAndGlyphs" fill="#089981">0.3457</text>
<text class="lg" x="311.8" y="62.8" textLength="11.2" lengthAdjust="spacingAndGlyphs">H</text>
<text class="lg" x="323.5" y="62.8" textLength="50.5" lengthAdjust="spacingAndGlyphs" fill="#089981">0.3471</text>
<text class="lg" x="384.3" y="62.8" textLength="8.2" lengthAdjust="spacingAndGlyphs">L</text>
<text class="lg" x="393" y="62.8" textLength="53" lengthAdjust="spacingAndGlyphs" fill="#089981">0.3450</text>
<text class="lg" x="456" y="62.8" textLength="11" lengthAdjust="spacingAndGlyphs">C</text>
<text class="lg" x="467.5" y="62.8" textLength="54" lengthAdjust="spacingAndGlyphs" fill="#089981">0.3459</text>
<text class="lg" x="531.5" y="62.8" textLength="139" lengthAdjust="spacingAndGlyphs" fill="#089981">−0.0008 (−0.23%)</text>
<text y="85.9" class="lg"><tspan x="24.8" textLength="33.0" lengthAdjust="spacingAndGlyphs">EMA</tspan><tspan x="63.75" textLength="111.7" lengthAdjust="spacingAndGlyphs">20/50/100/200</tspan></text>
<text class="lg" x="185.5" y="85.9" textLength="53.5" lengthAdjust="spacingAndGlyphs" fill="#ff0000">0.3446</text>
<text class="lg" x="249.5" y="85.9" textLength="52.5" lengthAdjust="spacingAndGlyphs" fill="#ff8000">0.3476</text>
<text class="lg" x="312.5" y="85.9" textLength="52.5" lengthAdjust="spacingAndGlyphs" fill="#00e5ff">0.3529</text>
<text class="lg" x="375.5" y="85.9" textLength="53.5" lengthAdjust="spacingAndGlyphs" fill="#0000ff">0.3686</text>
<text class="lg" x="24.5" y="836" textLength="106.5" lengthAdjust="spacingAndGlyphs">RSI (14, close)</text>
<text class="lg" x="143" y="836" textLength="40" lengthAdjust="spacingAndGlyphs" fill="#7e57c2">51.50</text>
<text class="lg" x="194" y="836" textLength="41" lengthAdjust="spacingAndGlyphs" fill="#fdd835">45.73</text>
<text class="ax" x="1502.5" y="60.2" textLength="54.3" lengthAdjust="spacingAndGlyphs">0.5400</text>
<text class="ax" x="1502.5" y="123.6" textLength="54.3" lengthAdjust="spacingAndGlyphs">0.5200</text>
<text class="ax" x="1502.5" y="187.0" textLength="54.3" lengthAdjust="spacingAndGlyphs">0.5000</text>
<text class="ax" x="1502.5" y="250.4" textLength="54.3" lengthAdjust="spacingAndGlyphs">0.4800</text>
<text class="ax" x="1502.5" y="313.8" textLength="54.3" lengthAdjust="spacingAndGlyphs">0.4600</text>
<text class="ax" x="1502.5" y="377.2" textLength="54.3" lengthAdjust="spacingAndGlyphs">0.4400</text>
<text class="ax" x="1502.5" y="440.6" textLength="54.3" lengthAdjust="spacingAndGlyphs">0.4200</text>
<text class="ax" x="1502.5" y="504.0" textLength="54.3" lengthAdjust="spacingAndGlyphs">0.4000</text>
<text class="ax" x="1502.5" y="567.4" textLength="54.3" lengthAdjust="spacingAndGlyphs">0.3800</text>
<text class="ax" x="1502.5" y="757.6" textLength="54.3" lengthAdjust="spacingAndGlyphs">0.3200</text>
<rect x="1491" y="586.9" width="74.0" height="22.4" rx="2" ry="2" fill="#0800ee"/>
<text class="ax" x="1502.5" y="603.9" textLength="54" lengthAdjust="spacingAndGlyphs" fill="#fff" fill-opacity="1">0.3686</text>
<rect x="1491" y="614.4" width="74.0" height="21.5" rx="2" ry="2" fill="#00ffff"/>
<text class="ax" x="1502.5" y="630.8" textLength="54" lengthAdjust="spacingAndGlyphs" fill="#131722" fill-opacity="1">0.3529</text>
<rect x="1491" y="637.1" width="74.0" height="21.6" rx="2" ry="2" fill="#ff8000"/>
<text class="ax" x="1502.5" y="653.7" textLength="54" lengthAdjust="spacingAndGlyphs" fill="#fff" fill-opacity="1">0.3476</text>
<rect x="1491" y="659.9" width="88.3" height="40.5" rx="2" ry="2" fill="#089981"/>
<text class="ax" x="1502.5" y="676.3" textLength="54" lengthAdjust="spacingAndGlyphs" fill="#fff" fill-opacity="0.92">0.3459</text>
<text class="ax" x="1502.5" y="695.3" textLength="69" lengthAdjust="spacingAndGlyphs" fill="#fff" fill-opacity="0.85">01:43:35</text>
<rect x="1491" y="701.5" width="74.0" height="22.1" rx="2" ry="2" fill="#ff0000"/>
<text class="ax" x="1502.5" y="718.3" textLength="54" lengthAdjust="spacingAndGlyphs" fill="#fff" fill-opacity="1">0.3446</text>
<text class="ax" x="1502.5" y="852.5" textLength="44" lengthAdjust="spacingAndGlyphs">75.00</text>
<text class="ax" x="1502.5" y="952.8" textLength="44" lengthAdjust="spacingAndGlyphs">25.00</text>
<rect x="1491" y="881.7" width="63" height="22" rx="2" fill="#7e57c2"/>
<text class="ax" x="1502.5" y="898.6" textLength="44" lengthAdjust="spacingAndGlyphs" fill="#fff">51.50</text>
<rect x="1491" y="905" width="63" height="22.5" rx="2" fill="#fdd835"/>
<text class="ax" x="1502.5" y="921.8" textLength="44" lengthAdjust="spacingAndGlyphs" fill="#131722">45.73</text>
<text class="ax" x="39.8" y="1011.1" textLength="18.5" lengthAdjust="spacingAndGlyphs">20</text>
<text class="ax" x="113.3" y="1011.1" textLength="18.5" lengthAdjust="spacingAndGlyphs">23</text>
<text class="ax" x="186.8" y="1011.1" textLength="18.5" lengthAdjust="spacingAndGlyphs">26</text>
<text class="ax" x="260.4" y="1011.1" textLength="18.5" lengthAdjust="spacingAndGlyphs">29</text>
<text class="ax b" x="327.7" y="1011.1" textLength="31" lengthAdjust="spacingAndGlyphs">Aug</text>
<text class="ax" x="412.1" y="1011.1" textLength="9.3" lengthAdjust="spacingAndGlyphs">4</text>
<text class="ax" x="485.6" y="1011.1" textLength="9.3" lengthAdjust="spacingAndGlyphs">7</text>
<text class="ax" x="554.6" y="1011.1" textLength="18.5" lengthAdjust="spacingAndGlyphs">10</text>
<text class="ax" x="628.1" y="1011.1" textLength="18.5" lengthAdjust="spacingAndGlyphs">13</text>
<text class="ax" x="701.7" y="1011.1" textLength="18.5" lengthAdjust="spacingAndGlyphs">16</text>
<text class="ax" x="775.2" y="1011.1" textLength="18.5" lengthAdjust="spacingAndGlyphs">19</text>
<text class="ax" x="848.8" y="1011.1" textLength="18.5" lengthAdjust="spacingAndGlyphs">22</text>
<text class="ax" x="922.3" y="1011.1" textLength="18.5" lengthAdjust="spacingAndGlyphs">25</text>
<text class="ax" x="995.9" y="1011.1" textLength="18.5" lengthAdjust="spacingAndGlyphs">28</text>
<text class="ax b" x="1087.7" y="1011.1" textLength="31" lengthAdjust="spacingAndGlyphs">Sep</text>
<text class="ax" x="1172.1" y="1011.1" textLength="9.3" lengthAdjust="spacingAndGlyphs">4</text>
<text class="ax" x="1245.7" y="1011.1" textLength="9.3" lengthAdjust="spacingAndGlyphs">7</text>
<text class="ax" x="1314.6" y="1011.1" textLength="18.5" lengthAdjust="spacingAndGlyphs">10</text>
<text class="ax" x="1388.2" y="1011.1" textLength="18.5" lengthAdjust="spacingAndGlyphs">13</text>
<text class="ax" x="1461.7" y="1011.1" textLength="18.5" lengthAdjust="spacingAndGlyphs">16</text>
<g fill="#131722">
<path d="M16,1052.6 H32.3 V1071.9 H23.9 V1060.1 H16 Z"/>
<circle cx="39.5" cy="1056.3" r="3.9"/>
<path d="M45.9,1052.6 H56 L47.7,1071.9 H38.7 Z"/>
<text x="66" y="1071.9" font-size="27" font-weight="bold" textLength="162.5" lengthAdjust="spacingAndGlyphs" fill="#131722">TradingView</text>
</g>
</svg></body></html>
